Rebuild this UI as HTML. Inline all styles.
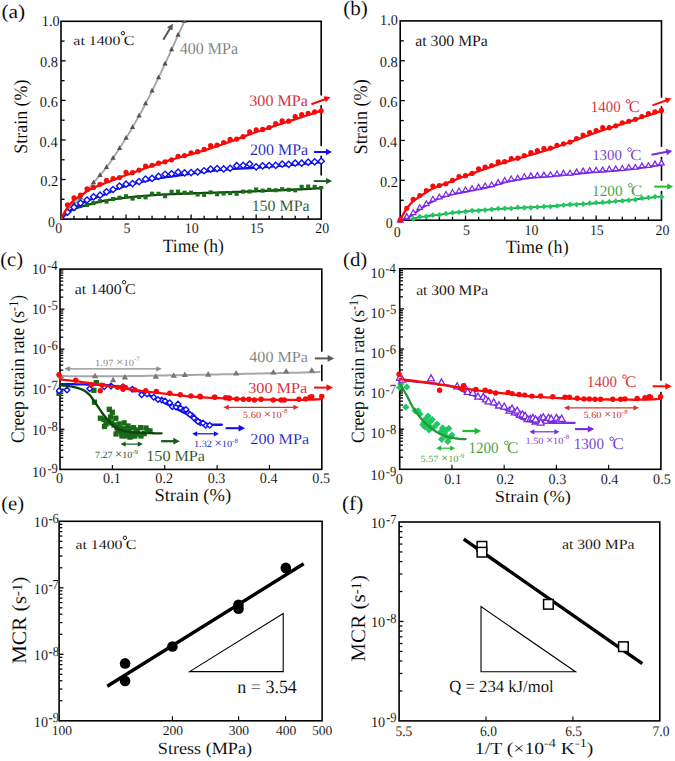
<!DOCTYPE html>
<html><head><meta charset="utf-8"><style>
html,body{margin:0;padding:0;background:#fff;}
svg{display:block;font-family:"Liberation Serif", serif;text-rendering:geometricPrecision;} text{stroke:#fff;stroke-width:0.1px;}
</style></head><body>
<svg width="675" height="761" viewBox="0 0 675 761">
<rect width="675" height="761" fill="#fff"/>
<rect x="61.00" y="21.30" width="260.20" height="197.80" fill="none" stroke="#000" stroke-width="1.6"/>
<line x1="61.00" y1="199.32" x2="64.60" y2="199.32" stroke="#000" stroke-width="1.3"/>
<line x1="61.00" y1="179.54" x2="65.60" y2="179.54" stroke="#000" stroke-width="1.3"/>
<line x1="61.00" y1="159.76" x2="64.60" y2="159.76" stroke="#000" stroke-width="1.3"/>
<line x1="61.00" y1="139.98" x2="65.60" y2="139.98" stroke="#000" stroke-width="1.3"/>
<line x1="61.00" y1="120.20" x2="64.60" y2="120.20" stroke="#000" stroke-width="1.3"/>
<line x1="61.00" y1="100.42" x2="65.60" y2="100.42" stroke="#000" stroke-width="1.3"/>
<line x1="61.00" y1="80.64" x2="64.60" y2="80.64" stroke="#000" stroke-width="1.3"/>
<line x1="61.00" y1="60.86" x2="65.60" y2="60.86" stroke="#000" stroke-width="1.3"/>
<line x1="61.00" y1="41.08" x2="64.60" y2="41.08" stroke="#000" stroke-width="1.3"/>
<line x1="74.01" y1="219.10" x2="74.01" y2="215.70" stroke="#000" stroke-width="1.3"/>
<line x1="87.02" y1="219.10" x2="87.02" y2="215.70" stroke="#000" stroke-width="1.3"/>
<line x1="100.03" y1="219.10" x2="100.03" y2="215.70" stroke="#000" stroke-width="1.3"/>
<line x1="113.04" y1="219.10" x2="113.04" y2="215.70" stroke="#000" stroke-width="1.3"/>
<line x1="126.05" y1="219.10" x2="126.05" y2="214.50" stroke="#000" stroke-width="1.3"/>
<line x1="139.06" y1="219.10" x2="139.06" y2="215.70" stroke="#000" stroke-width="1.3"/>
<line x1="152.07" y1="219.10" x2="152.07" y2="215.70" stroke="#000" stroke-width="1.3"/>
<line x1="165.08" y1="219.10" x2="165.08" y2="215.70" stroke="#000" stroke-width="1.3"/>
<line x1="178.09" y1="219.10" x2="178.09" y2="215.70" stroke="#000" stroke-width="1.3"/>
<line x1="191.10" y1="219.10" x2="191.10" y2="214.50" stroke="#000" stroke-width="1.3"/>
<line x1="204.11" y1="219.10" x2="204.11" y2="215.70" stroke="#000" stroke-width="1.3"/>
<line x1="217.12" y1="219.10" x2="217.12" y2="215.70" stroke="#000" stroke-width="1.3"/>
<line x1="230.13" y1="219.10" x2="230.13" y2="215.70" stroke="#000" stroke-width="1.3"/>
<line x1="243.14" y1="219.10" x2="243.14" y2="215.70" stroke="#000" stroke-width="1.3"/>
<line x1="256.15" y1="219.10" x2="256.15" y2="214.50" stroke="#000" stroke-width="1.3"/>
<line x1="269.16" y1="219.10" x2="269.16" y2="215.70" stroke="#000" stroke-width="1.3"/>
<line x1="282.17" y1="219.10" x2="282.17" y2="215.70" stroke="#000" stroke-width="1.3"/>
<line x1="295.18" y1="219.10" x2="295.18" y2="215.70" stroke="#000" stroke-width="1.3"/>
<line x1="308.19" y1="219.10" x2="308.19" y2="215.70" stroke="#000" stroke-width="1.3"/>
<text transform="translate(40.19,186.14) scale(0.960,1)" font-size="15.00" fill="#000">0.2</text>
<text transform="translate(39.62,146.58) scale(0.960,1)" font-size="15.00" fill="#000">0.4</text>
<text transform="translate(39.83,107.02) scale(0.960,1)" font-size="15.00" fill="#000">0.6</text>
<text transform="translate(39.98,67.46) scale(0.960,1)" font-size="15.00" fill="#000">0.8</text>
<text transform="translate(41.86,25.60) scale(0.950,1)" font-size="15.00" fill="#000">1.0</text>
<text transform="translate(47.93,227.20) scale(0.950,1)" font-size="14.60" fill="#000">0</text>
<text transform="translate(123.44,232.70) scale(0.950,1)" font-size="14.60" fill="#000">5</text>
<text transform="translate(184.85,232.70) scale(0.950,1)" font-size="14.60" fill="#000">10</text>
<text transform="translate(249.90,232.70) scale(0.950,1)" font-size="14.60" fill="#000">15</text>
<text transform="translate(315.23,232.70) scale(0.950,1)" font-size="14.60" fill="#000">20</text>
<text transform="translate(55.33,232.70) scale(0.950,1)" font-size="14.60" fill="#000">0</text>
<rect x="400.20" y="20.90" width="261.30" height="199.30" fill="none" stroke="#000" stroke-width="1.6"/>
<line x1="400.20" y1="200.27" x2="403.80" y2="200.27" stroke="#000" stroke-width="1.3"/>
<line x1="400.20" y1="180.34" x2="404.80" y2="180.34" stroke="#000" stroke-width="1.3"/>
<line x1="400.20" y1="160.41" x2="403.80" y2="160.41" stroke="#000" stroke-width="1.3"/>
<line x1="400.20" y1="140.48" x2="404.80" y2="140.48" stroke="#000" stroke-width="1.3"/>
<line x1="400.20" y1="120.55" x2="403.80" y2="120.55" stroke="#000" stroke-width="1.3"/>
<line x1="400.20" y1="100.62" x2="404.80" y2="100.62" stroke="#000" stroke-width="1.3"/>
<line x1="400.20" y1="80.69" x2="403.80" y2="80.69" stroke="#000" stroke-width="1.3"/>
<line x1="400.20" y1="60.76" x2="404.80" y2="60.76" stroke="#000" stroke-width="1.3"/>
<line x1="400.20" y1="40.83" x2="403.80" y2="40.83" stroke="#000" stroke-width="1.3"/>
<line x1="413.26" y1="220.20" x2="413.26" y2="216.80" stroke="#000" stroke-width="1.3"/>
<line x1="426.33" y1="220.20" x2="426.33" y2="216.80" stroke="#000" stroke-width="1.3"/>
<line x1="439.39" y1="220.20" x2="439.39" y2="216.80" stroke="#000" stroke-width="1.3"/>
<line x1="452.46" y1="220.20" x2="452.46" y2="216.80" stroke="#000" stroke-width="1.3"/>
<line x1="465.52" y1="220.20" x2="465.52" y2="215.60" stroke="#000" stroke-width="1.3"/>
<line x1="478.59" y1="220.20" x2="478.59" y2="216.80" stroke="#000" stroke-width="1.3"/>
<line x1="491.65" y1="220.20" x2="491.65" y2="216.80" stroke="#000" stroke-width="1.3"/>
<line x1="504.72" y1="220.20" x2="504.72" y2="216.80" stroke="#000" stroke-width="1.3"/>
<line x1="517.78" y1="220.20" x2="517.78" y2="216.80" stroke="#000" stroke-width="1.3"/>
<line x1="530.85" y1="220.20" x2="530.85" y2="215.60" stroke="#000" stroke-width="1.3"/>
<line x1="543.91" y1="220.20" x2="543.91" y2="216.80" stroke="#000" stroke-width="1.3"/>
<line x1="556.98" y1="220.20" x2="556.98" y2="216.80" stroke="#000" stroke-width="1.3"/>
<line x1="570.04" y1="220.20" x2="570.04" y2="216.80" stroke="#000" stroke-width="1.3"/>
<line x1="583.11" y1="220.20" x2="583.11" y2="216.80" stroke="#000" stroke-width="1.3"/>
<line x1="596.17" y1="220.20" x2="596.17" y2="215.60" stroke="#000" stroke-width="1.3"/>
<line x1="609.24" y1="220.20" x2="609.24" y2="216.80" stroke="#000" stroke-width="1.3"/>
<line x1="622.31" y1="220.20" x2="622.31" y2="216.80" stroke="#000" stroke-width="1.3"/>
<line x1="635.37" y1="220.20" x2="635.37" y2="216.80" stroke="#000" stroke-width="1.3"/>
<line x1="648.43" y1="220.20" x2="648.43" y2="216.80" stroke="#000" stroke-width="1.3"/>
<text transform="translate(379.89,186.54) scale(0.960,1)" font-size="15.00" fill="#000">0.2</text>
<text transform="translate(379.32,146.68) scale(0.960,1)" font-size="15.00" fill="#000">0.4</text>
<text transform="translate(379.53,106.82) scale(0.960,1)" font-size="15.00" fill="#000">0.6</text>
<text transform="translate(379.68,66.96) scale(0.960,1)" font-size="15.00" fill="#000">0.8</text>
<text transform="translate(380.06,24.80) scale(0.950,1)" font-size="15.00" fill="#000">1.0</text>
<text transform="translate(385.63,228.00) scale(0.950,1)" font-size="14.60" fill="#000">0</text>
<text transform="translate(462.92,235.40) scale(0.950,1)" font-size="14.60" fill="#000">5</text>
<text transform="translate(524.60,235.40) scale(0.950,1)" font-size="14.60" fill="#000">10</text>
<text transform="translate(589.93,235.40) scale(0.950,1)" font-size="14.60" fill="#000">15</text>
<text transform="translate(655.53,235.40) scale(0.950,1)" font-size="14.60" fill="#000">20</text>
<text transform="translate(393.73,237.40) scale(0.950,1)" font-size="14.60" fill="#000">0</text>
<rect x="60.00" y="269.10" width="261.80" height="200.30" fill="none" stroke="#000" stroke-width="1.6"/>
<line x1="60.00" y1="457.34" x2="63.30" y2="457.34" stroke="#000" stroke-width="1.25"/>
<line x1="60.00" y1="450.29" x2="63.30" y2="450.29" stroke="#000" stroke-width="1.25"/>
<line x1="60.00" y1="445.28" x2="63.30" y2="445.28" stroke="#000" stroke-width="1.25"/>
<line x1="60.00" y1="441.40" x2="63.30" y2="441.40" stroke="#000" stroke-width="1.25"/>
<line x1="60.00" y1="438.23" x2="63.30" y2="438.23" stroke="#000" stroke-width="1.25"/>
<line x1="60.00" y1="435.55" x2="63.30" y2="435.55" stroke="#000" stroke-width="1.25"/>
<line x1="60.00" y1="433.22" x2="63.30" y2="433.22" stroke="#000" stroke-width="1.25"/>
<line x1="60.00" y1="431.17" x2="63.30" y2="431.17" stroke="#000" stroke-width="1.25"/>
<line x1="60.00" y1="429.34" x2="64.40" y2="429.34" stroke="#000" stroke-width="1.3"/>
<line x1="60.00" y1="417.28" x2="63.30" y2="417.28" stroke="#000" stroke-width="1.25"/>
<line x1="60.00" y1="410.23" x2="63.30" y2="410.23" stroke="#000" stroke-width="1.25"/>
<line x1="60.00" y1="405.22" x2="63.30" y2="405.22" stroke="#000" stroke-width="1.25"/>
<line x1="60.00" y1="401.34" x2="63.30" y2="401.34" stroke="#000" stroke-width="1.25"/>
<line x1="60.00" y1="398.17" x2="63.30" y2="398.17" stroke="#000" stroke-width="1.25"/>
<line x1="60.00" y1="395.49" x2="63.30" y2="395.49" stroke="#000" stroke-width="1.25"/>
<line x1="60.00" y1="393.16" x2="63.30" y2="393.16" stroke="#000" stroke-width="1.25"/>
<line x1="60.00" y1="391.11" x2="63.30" y2="391.11" stroke="#000" stroke-width="1.25"/>
<line x1="60.00" y1="389.28" x2="64.40" y2="389.28" stroke="#000" stroke-width="1.3"/>
<line x1="60.00" y1="377.22" x2="63.30" y2="377.22" stroke="#000" stroke-width="1.25"/>
<line x1="60.00" y1="370.17" x2="63.30" y2="370.17" stroke="#000" stroke-width="1.25"/>
<line x1="60.00" y1="365.16" x2="63.30" y2="365.16" stroke="#000" stroke-width="1.25"/>
<line x1="60.00" y1="361.28" x2="63.30" y2="361.28" stroke="#000" stroke-width="1.25"/>
<line x1="60.00" y1="358.11" x2="63.30" y2="358.11" stroke="#000" stroke-width="1.25"/>
<line x1="60.00" y1="355.43" x2="63.30" y2="355.43" stroke="#000" stroke-width="1.25"/>
<line x1="60.00" y1="353.10" x2="63.30" y2="353.10" stroke="#000" stroke-width="1.25"/>
<line x1="60.00" y1="351.05" x2="63.30" y2="351.05" stroke="#000" stroke-width="1.25"/>
<line x1="60.00" y1="349.22" x2="64.40" y2="349.22" stroke="#000" stroke-width="1.3"/>
<line x1="60.00" y1="337.16" x2="63.30" y2="337.16" stroke="#000" stroke-width="1.25"/>
<line x1="60.00" y1="330.11" x2="63.30" y2="330.11" stroke="#000" stroke-width="1.25"/>
<line x1="60.00" y1="325.10" x2="63.30" y2="325.10" stroke="#000" stroke-width="1.25"/>
<line x1="60.00" y1="321.22" x2="63.30" y2="321.22" stroke="#000" stroke-width="1.25"/>
<line x1="60.00" y1="318.05" x2="63.30" y2="318.05" stroke="#000" stroke-width="1.25"/>
<line x1="60.00" y1="315.37" x2="63.30" y2="315.37" stroke="#000" stroke-width="1.25"/>
<line x1="60.00" y1="313.04" x2="63.30" y2="313.04" stroke="#000" stroke-width="1.25"/>
<line x1="60.00" y1="310.99" x2="63.30" y2="310.99" stroke="#000" stroke-width="1.25"/>
<line x1="60.00" y1="309.16" x2="64.40" y2="309.16" stroke="#000" stroke-width="1.3"/>
<line x1="60.00" y1="297.10" x2="63.30" y2="297.10" stroke="#000" stroke-width="1.25"/>
<line x1="60.00" y1="290.05" x2="63.30" y2="290.05" stroke="#000" stroke-width="1.25"/>
<line x1="60.00" y1="285.04" x2="63.30" y2="285.04" stroke="#000" stroke-width="1.25"/>
<line x1="60.00" y1="281.16" x2="63.30" y2="281.16" stroke="#000" stroke-width="1.25"/>
<line x1="60.00" y1="277.99" x2="63.30" y2="277.99" stroke="#000" stroke-width="1.25"/>
<line x1="60.00" y1="275.31" x2="63.30" y2="275.31" stroke="#000" stroke-width="1.25"/>
<line x1="60.00" y1="272.98" x2="63.30" y2="272.98" stroke="#000" stroke-width="1.25"/>
<line x1="60.00" y1="270.93" x2="63.30" y2="270.93" stroke="#000" stroke-width="1.25"/>
<line x1="112.36" y1="469.40" x2="112.36" y2="464.90" stroke="#000" stroke-width="1.1"/>
<line x1="164.72" y1="469.40" x2="164.72" y2="464.90" stroke="#000" stroke-width="1.1"/>
<line x1="217.08" y1="469.40" x2="217.08" y2="464.90" stroke="#000" stroke-width="1.1"/>
<line x1="269.44" y1="469.40" x2="269.44" y2="464.90" stroke="#000" stroke-width="1.1"/>
<text transform="translate(32.00,477.00) scale(0.958,1)" font-size="14.80" fill="#000">10</text>
<text transform="translate(47.38,473.00) scale(0.900,1)" font-size="14.00" fill="#000">-9</text>
<text transform="translate(32.00,434.54) scale(0.958,1)" font-size="14.80" fill="#000">10</text>
<text transform="translate(47.38,430.54) scale(0.900,1)" font-size="14.00" fill="#000">-8</text>
<text transform="translate(32.00,394.48) scale(0.958,1)" font-size="14.80" fill="#000">10</text>
<text transform="translate(47.26,390.48) scale(0.900,1)" font-size="14.00" fill="#000">-7</text>
<text transform="translate(32.00,354.42) scale(0.958,1)" font-size="14.80" fill="#000">10</text>
<text transform="translate(47.26,350.42) scale(0.900,1)" font-size="14.00" fill="#000">-6</text>
<text transform="translate(32.00,314.36) scale(0.958,1)" font-size="14.80" fill="#000">10</text>
<text transform="translate(47.38,310.36) scale(0.900,1)" font-size="14.00" fill="#000">-5</text>
<text transform="translate(32.00,274.30) scale(0.958,1)" font-size="14.80" fill="#000">10</text>
<text transform="translate(47.07,270.30) scale(0.900,1)" font-size="14.00" fill="#000">-4</text>
<text transform="translate(55.96,483.20) scale(0.970,1)" font-size="14.60" fill="#000">0</text>
<text transform="translate(103.05,483.20) scale(0.970,1)" font-size="14.60" fill="#000">0.1</text>
<text transform="translate(155.37,483.20) scale(0.970,1)" font-size="14.60" fill="#000">0.2</text>
<text transform="translate(207.63,483.20) scale(0.970,1)" font-size="14.60" fill="#000">0.3</text>
<text transform="translate(259.81,483.20) scale(0.970,1)" font-size="14.60" fill="#000">0.4</text>
<text transform="translate(312.35,483.20) scale(0.970,1)" font-size="14.60" fill="#000">0.5</text>
<rect x="399.70" y="268.80" width="261.20" height="200.50" fill="none" stroke="#000" stroke-width="1.6"/>
<line x1="399.70" y1="457.23" x2="403.00" y2="457.23" stroke="#000" stroke-width="1.25"/>
<line x1="399.70" y1="450.17" x2="403.00" y2="450.17" stroke="#000" stroke-width="1.25"/>
<line x1="399.70" y1="445.16" x2="403.00" y2="445.16" stroke="#000" stroke-width="1.25"/>
<line x1="399.70" y1="441.27" x2="403.00" y2="441.27" stroke="#000" stroke-width="1.25"/>
<line x1="399.70" y1="438.10" x2="403.00" y2="438.10" stroke="#000" stroke-width="1.25"/>
<line x1="399.70" y1="435.41" x2="403.00" y2="435.41" stroke="#000" stroke-width="1.25"/>
<line x1="399.70" y1="433.09" x2="403.00" y2="433.09" stroke="#000" stroke-width="1.25"/>
<line x1="399.70" y1="431.03" x2="403.00" y2="431.03" stroke="#000" stroke-width="1.25"/>
<line x1="399.70" y1="429.20" x2="404.10" y2="429.20" stroke="#000" stroke-width="1.3"/>
<line x1="399.70" y1="417.13" x2="403.00" y2="417.13" stroke="#000" stroke-width="1.25"/>
<line x1="399.70" y1="410.07" x2="403.00" y2="410.07" stroke="#000" stroke-width="1.25"/>
<line x1="399.70" y1="405.06" x2="403.00" y2="405.06" stroke="#000" stroke-width="1.25"/>
<line x1="399.70" y1="401.17" x2="403.00" y2="401.17" stroke="#000" stroke-width="1.25"/>
<line x1="399.70" y1="398.00" x2="403.00" y2="398.00" stroke="#000" stroke-width="1.25"/>
<line x1="399.70" y1="395.31" x2="403.00" y2="395.31" stroke="#000" stroke-width="1.25"/>
<line x1="399.70" y1="392.99" x2="403.00" y2="392.99" stroke="#000" stroke-width="1.25"/>
<line x1="399.70" y1="390.93" x2="403.00" y2="390.93" stroke="#000" stroke-width="1.25"/>
<line x1="399.70" y1="389.10" x2="404.10" y2="389.10" stroke="#000" stroke-width="1.3"/>
<line x1="399.70" y1="377.03" x2="403.00" y2="377.03" stroke="#000" stroke-width="1.25"/>
<line x1="399.70" y1="369.97" x2="403.00" y2="369.97" stroke="#000" stroke-width="1.25"/>
<line x1="399.70" y1="364.96" x2="403.00" y2="364.96" stroke="#000" stroke-width="1.25"/>
<line x1="399.70" y1="361.07" x2="403.00" y2="361.07" stroke="#000" stroke-width="1.25"/>
<line x1="399.70" y1="357.90" x2="403.00" y2="357.90" stroke="#000" stroke-width="1.25"/>
<line x1="399.70" y1="355.21" x2="403.00" y2="355.21" stroke="#000" stroke-width="1.25"/>
<line x1="399.70" y1="352.89" x2="403.00" y2="352.89" stroke="#000" stroke-width="1.25"/>
<line x1="399.70" y1="350.83" x2="403.00" y2="350.83" stroke="#000" stroke-width="1.25"/>
<line x1="399.70" y1="349.00" x2="404.10" y2="349.00" stroke="#000" stroke-width="1.3"/>
<line x1="399.70" y1="336.93" x2="403.00" y2="336.93" stroke="#000" stroke-width="1.25"/>
<line x1="399.70" y1="329.87" x2="403.00" y2="329.87" stroke="#000" stroke-width="1.25"/>
<line x1="399.70" y1="324.86" x2="403.00" y2="324.86" stroke="#000" stroke-width="1.25"/>
<line x1="399.70" y1="320.97" x2="403.00" y2="320.97" stroke="#000" stroke-width="1.25"/>
<line x1="399.70" y1="317.80" x2="403.00" y2="317.80" stroke="#000" stroke-width="1.25"/>
<line x1="399.70" y1="315.11" x2="403.00" y2="315.11" stroke="#000" stroke-width="1.25"/>
<line x1="399.70" y1="312.79" x2="403.00" y2="312.79" stroke="#000" stroke-width="1.25"/>
<line x1="399.70" y1="310.73" x2="403.00" y2="310.73" stroke="#000" stroke-width="1.25"/>
<line x1="399.70" y1="308.90" x2="404.10" y2="308.90" stroke="#000" stroke-width="1.3"/>
<line x1="399.70" y1="296.83" x2="403.00" y2="296.83" stroke="#000" stroke-width="1.25"/>
<line x1="399.70" y1="289.77" x2="403.00" y2="289.77" stroke="#000" stroke-width="1.25"/>
<line x1="399.70" y1="284.76" x2="403.00" y2="284.76" stroke="#000" stroke-width="1.25"/>
<line x1="399.70" y1="280.87" x2="403.00" y2="280.87" stroke="#000" stroke-width="1.25"/>
<line x1="399.70" y1="277.70" x2="403.00" y2="277.70" stroke="#000" stroke-width="1.25"/>
<line x1="399.70" y1="275.01" x2="403.00" y2="275.01" stroke="#000" stroke-width="1.25"/>
<line x1="399.70" y1="272.69" x2="403.00" y2="272.69" stroke="#000" stroke-width="1.25"/>
<line x1="399.70" y1="270.63" x2="403.00" y2="270.63" stroke="#000" stroke-width="1.25"/>
<line x1="451.94" y1="469.30" x2="451.94" y2="464.80" stroke="#000" stroke-width="1.1"/>
<line x1="504.18" y1="469.30" x2="504.18" y2="464.80" stroke="#000" stroke-width="1.1"/>
<line x1="556.42" y1="469.30" x2="556.42" y2="464.80" stroke="#000" stroke-width="1.1"/>
<line x1="608.66" y1="469.30" x2="608.66" y2="464.80" stroke="#000" stroke-width="1.1"/>
<text transform="translate(370.60,480.10) scale(0.958,1)" font-size="14.80" fill="#000">10</text>
<text transform="translate(385.68,475.80) scale(0.900,1)" font-size="14.00" fill="#000">-9</text>
<text transform="translate(370.60,438.10) scale(0.958,1)" font-size="14.80" fill="#000">10</text>
<text transform="translate(385.68,433.80) scale(0.900,1)" font-size="14.00" fill="#000">-8</text>
<text transform="translate(370.60,398.00) scale(0.958,1)" font-size="14.80" fill="#000">10</text>
<text transform="translate(385.56,393.70) scale(0.900,1)" font-size="14.00" fill="#000">-7</text>
<text transform="translate(370.60,357.90) scale(0.958,1)" font-size="14.80" fill="#000">10</text>
<text transform="translate(385.56,353.60) scale(0.900,1)" font-size="14.00" fill="#000">-6</text>
<text transform="translate(370.60,317.80) scale(0.958,1)" font-size="14.80" fill="#000">10</text>
<text transform="translate(385.68,313.50) scale(0.900,1)" font-size="14.00" fill="#000">-5</text>
<text transform="translate(370.60,277.70) scale(0.958,1)" font-size="14.80" fill="#000">10</text>
<text transform="translate(385.37,273.40) scale(0.900,1)" font-size="14.00" fill="#000">-4</text>
<text transform="translate(395.66,484.30) scale(0.970,1)" font-size="14.60" fill="#000">0</text>
<text transform="translate(444.23,484.30) scale(0.970,1)" font-size="14.60" fill="#000">0.1</text>
<text transform="translate(496.43,484.30) scale(0.970,1)" font-size="14.60" fill="#000">0.2</text>
<text transform="translate(548.57,484.30) scale(0.970,1)" font-size="14.60" fill="#000">0.3</text>
<text transform="translate(600.63,484.30) scale(0.970,1)" font-size="14.60" fill="#000">0.4</text>
<text transform="translate(653.05,484.30) scale(0.970,1)" font-size="14.60" fill="#000">0.5</text>
<rect x="59.10" y="521.30" width="263.00" height="199.50" fill="none" stroke="#000" stroke-width="1.6"/>
<line x1="59.10" y1="700.78" x2="62.40" y2="700.78" stroke="#000" stroke-width="1.25"/>
<line x1="59.10" y1="689.07" x2="62.40" y2="689.07" stroke="#000" stroke-width="1.25"/>
<line x1="59.10" y1="680.76" x2="62.40" y2="680.76" stroke="#000" stroke-width="1.25"/>
<line x1="59.10" y1="674.32" x2="62.40" y2="674.32" stroke="#000" stroke-width="1.25"/>
<line x1="59.10" y1="669.05" x2="62.40" y2="669.05" stroke="#000" stroke-width="1.25"/>
<line x1="59.10" y1="664.60" x2="62.40" y2="664.60" stroke="#000" stroke-width="1.25"/>
<line x1="59.10" y1="660.74" x2="62.40" y2="660.74" stroke="#000" stroke-width="1.25"/>
<line x1="59.10" y1="657.34" x2="62.40" y2="657.34" stroke="#000" stroke-width="1.25"/>
<line x1="59.10" y1="654.30" x2="63.50" y2="654.30" stroke="#000" stroke-width="1.3"/>
<line x1="59.10" y1="634.28" x2="62.40" y2="634.28" stroke="#000" stroke-width="1.25"/>
<line x1="59.10" y1="622.57" x2="62.40" y2="622.57" stroke="#000" stroke-width="1.25"/>
<line x1="59.10" y1="614.26" x2="62.40" y2="614.26" stroke="#000" stroke-width="1.25"/>
<line x1="59.10" y1="607.82" x2="62.40" y2="607.82" stroke="#000" stroke-width="1.25"/>
<line x1="59.10" y1="602.55" x2="62.40" y2="602.55" stroke="#000" stroke-width="1.25"/>
<line x1="59.10" y1="598.10" x2="62.40" y2="598.10" stroke="#000" stroke-width="1.25"/>
<line x1="59.10" y1="594.24" x2="62.40" y2="594.24" stroke="#000" stroke-width="1.25"/>
<line x1="59.10" y1="590.84" x2="62.40" y2="590.84" stroke="#000" stroke-width="1.25"/>
<line x1="59.10" y1="587.80" x2="63.50" y2="587.80" stroke="#000" stroke-width="1.3"/>
<line x1="59.10" y1="567.78" x2="62.40" y2="567.78" stroke="#000" stroke-width="1.25"/>
<line x1="59.10" y1="556.07" x2="62.40" y2="556.07" stroke="#000" stroke-width="1.25"/>
<line x1="59.10" y1="547.76" x2="62.40" y2="547.76" stroke="#000" stroke-width="1.25"/>
<line x1="59.10" y1="541.32" x2="62.40" y2="541.32" stroke="#000" stroke-width="1.25"/>
<line x1="59.10" y1="536.05" x2="62.40" y2="536.05" stroke="#000" stroke-width="1.25"/>
<line x1="59.10" y1="531.60" x2="62.40" y2="531.60" stroke="#000" stroke-width="1.25"/>
<line x1="59.10" y1="527.74" x2="62.40" y2="527.74" stroke="#000" stroke-width="1.25"/>
<line x1="59.10" y1="524.34" x2="62.40" y2="524.34" stroke="#000" stroke-width="1.25"/>
<line x1="172.37" y1="720.80" x2="172.37" y2="716.30" stroke="#000" stroke-width="1.1"/>
<line x1="238.63" y1="720.80" x2="238.63" y2="716.30" stroke="#000" stroke-width="1.1"/>
<line x1="285.64" y1="720.80" x2="285.64" y2="716.30" stroke="#000" stroke-width="1.1"/>
<text transform="translate(33.80,726.80) scale(0.971,1)" font-size="14.60" fill="#000">10</text>
<text transform="translate(48.53,722.20) scale(0.900,1)" font-size="13.80" fill="#000">-9</text>
<text transform="translate(33.80,660.30) scale(0.971,1)" font-size="14.60" fill="#000">10</text>
<text transform="translate(48.53,655.70) scale(0.900,1)" font-size="13.80" fill="#000">-8</text>
<text transform="translate(33.80,593.80) scale(0.971,1)" font-size="14.60" fill="#000">10</text>
<text transform="translate(48.40,589.20) scale(0.900,1)" font-size="13.80" fill="#000">-7</text>
<text transform="translate(33.80,527.30) scale(0.971,1)" font-size="14.60" fill="#000">10</text>
<text transform="translate(48.40,522.70) scale(0.900,1)" font-size="13.80" fill="#000">-6</text>
<text transform="translate(51.69,735.40) scale(1.000,1)" font-size="13.60" fill="#000">100</text>
<text transform="translate(162.77,735.40) scale(1.000,1)" font-size="13.60" fill="#000">200</text>
<text transform="translate(228.77,735.40) scale(1.000,1)" font-size="13.60" fill="#000">300</text>
<text transform="translate(275.94,735.40) scale(1.000,1)" font-size="13.60" fill="#000">400</text>
<text transform="translate(311.96,735.40) scale(1.000,1)" font-size="13.60" fill="#000">500</text>
<rect x="399.10" y="522.00" width="260.70" height="198.90" fill="none" stroke="#000" stroke-width="1.6"/>
<line x1="399.10" y1="690.96" x2="402.40" y2="690.96" stroke="#000" stroke-width="1.25"/>
<line x1="399.10" y1="673.45" x2="402.40" y2="673.45" stroke="#000" stroke-width="1.25"/>
<line x1="399.10" y1="661.03" x2="402.40" y2="661.03" stroke="#000" stroke-width="1.25"/>
<line x1="399.10" y1="651.39" x2="402.40" y2="651.39" stroke="#000" stroke-width="1.25"/>
<line x1="399.10" y1="643.51" x2="402.40" y2="643.51" stroke="#000" stroke-width="1.25"/>
<line x1="399.10" y1="636.85" x2="402.40" y2="636.85" stroke="#000" stroke-width="1.25"/>
<line x1="399.10" y1="631.09" x2="402.40" y2="631.09" stroke="#000" stroke-width="1.25"/>
<line x1="399.10" y1="626.00" x2="402.40" y2="626.00" stroke="#000" stroke-width="1.25"/>
<line x1="399.10" y1="621.45" x2="403.50" y2="621.45" stroke="#000" stroke-width="1.3"/>
<line x1="399.10" y1="591.51" x2="402.40" y2="591.51" stroke="#000" stroke-width="1.25"/>
<line x1="399.10" y1="574.00" x2="402.40" y2="574.00" stroke="#000" stroke-width="1.25"/>
<line x1="399.10" y1="561.58" x2="402.40" y2="561.58" stroke="#000" stroke-width="1.25"/>
<line x1="399.10" y1="551.94" x2="402.40" y2="551.94" stroke="#000" stroke-width="1.25"/>
<line x1="399.10" y1="544.06" x2="402.40" y2="544.06" stroke="#000" stroke-width="1.25"/>
<line x1="399.10" y1="537.40" x2="402.40" y2="537.40" stroke="#000" stroke-width="1.25"/>
<line x1="399.10" y1="531.64" x2="402.40" y2="531.64" stroke="#000" stroke-width="1.25"/>
<line x1="399.10" y1="526.55" x2="402.40" y2="526.55" stroke="#000" stroke-width="1.25"/>
<line x1="486.00" y1="720.90" x2="486.00" y2="716.40" stroke="#000" stroke-width="1.1"/>
<line x1="572.90" y1="720.90" x2="572.90" y2="716.40" stroke="#000" stroke-width="1.1"/>
<text transform="translate(370.89,726.60) scale(0.965,1)" font-size="14.80" fill="#000">10</text>
<text transform="translate(386.23,722.40) scale(0.900,1)" font-size="13.80" fill="#000">-9</text>
<text transform="translate(370.89,627.15) scale(0.965,1)" font-size="14.80" fill="#000">10</text>
<text transform="translate(386.23,622.95) scale(0.900,1)" font-size="13.80" fill="#000">-8</text>
<text transform="translate(370.89,527.70) scale(0.965,1)" font-size="14.80" fill="#000">10</text>
<text transform="translate(386.10,523.50) scale(0.900,1)" font-size="13.80" fill="#000">-7</text>
<text transform="translate(395.44,735.60) scale(0.930,1)" font-size="14.50" fill="#000">5.5</text>
<text transform="translate(480.07,735.60) scale(0.930,1)" font-size="14.50" fill="#000">6.0</text>
<text transform="translate(565.17,735.60) scale(0.930,1)" font-size="14.50" fill="#000">6.5</text>
<text transform="translate(652.60,735.60) scale(0.930,1)" font-size="14.50" fill="#000">7.0</text>
<text transform="translate(1.43,17.69) scale(1.098,1)" font-size="19.56" fill="#000">(a)</text>
<text transform="translate(343.25,15.48) scale(1.027,1)" font-size="20.55" fill="#000">(b)</text>
<text transform="translate(0.27,265.85) scale(1.018,1)" font-size="20.22" fill="#000">(c)</text>
<text transform="translate(342.96,265.62) scale(1.047,1)" font-size="19.89" fill="#000">(d)</text>
<text transform="translate(1.17,509.70) scale(1.029,1)" font-size="20.00" fill="#000">(e)</text>
<text transform="translate(342.05,509.68) scale(1.055,1)" font-size="20.11" fill="#000">(f)</text>
<text transform="translate(162.65,252.30) scale(0.936,1)" font-size="18.78" fill="#000">Time (h)</text>
<text transform="translate(505.64,252.90) scale(0.970,1)" font-size="18.63" fill="#000">Time (h)</text>
<text transform="translate(154.39,501.30) scale(1.029,1)" font-size="18.03" fill="#000">Strain (%)</text>
<text transform="translate(494.80,502.00) scale(1.093,1)" font-size="16.82" fill="#000">Strain (%)</text>
<text transform="translate(157.82,754.40) scale(1.060,1)" font-size="17.12" fill="#000">Stress (MPa)</text>
<text transform="translate(474.82,754.40) scale(1.159,1)" font-size="16.99">1/T (×10<tspan font-size="12.23" dy="-7.14">-4</tspan><tspan dy="7.14"> K</tspan><tspan font-size="12.23" dy="-7.14">-1</tspan><tspan dy="7.14">)</tspan></text>
<text transform="translate(27.30,152.50) rotate(-90) scale(0.945,1) translate(-1.23,0)" font-size="18.94" fill="#000">Strain (%)</text>
<text transform="translate(367.40,153.20) rotate(-90) scale(0.929,1) translate(-1.27,0)" font-size="19.55" fill="#000">Strain (%)</text>
<text transform="translate(24.20,442.30) rotate(-90) scale(0.906,1) translate(-0.77,0)" font-size="19.24" fill="#000">Creep strain rate (s<tspan font-size="13.47" dy="-6.35">-1</tspan><tspan dy="6.35">)</tspan></text>
<text transform="translate(364.00,442.30) rotate(-90) scale(0.934,1) translate(-0.75,0)" font-size="18.79" fill="#000">Creep strain rate (s<tspan font-size="13.15" dy="-6.20">-1</tspan><tspan dy="6.20">)</tspan></text>
<text transform="translate(26.10,663.40) rotate(-90) scale(1.032,1) translate(-0.62,0)" font-size="20.61" fill="#000">MCR (s<tspan font-size="14.43" dy="-4.53">-1</tspan><tspan dy="4.53">)</tspan></text>
<text transform="translate(365.30,661.00) rotate(-90) scale(1.022,1) translate(-0.62,0)" font-size="20.61" fill="#000">MCR (s<tspan font-size="14.43" dy="-4.53">-1</tspan><tspan dy="4.53">)</tspan></text>
<clipPath id="ca"><rect x="61.0" y="21.3" width="264.2" height="197.79999999999998"/></clipPath>
<g clip-path="url(#ca)">
<polyline points="61.00,219.10 62.06,217.52 63.12,215.96 64.18,214.46 65.24,213.01 66.30,211.64 67.36,210.36 68.42,209.17 69.48,208.05 70.54,206.99 71.60,205.98 72.67,205.01 73.73,204.06 74.79,203.12 75.85,202.18 76.91,201.22 77.97,200.25 79.03,199.24 80.09,198.18 81.15,197.07 82.21,195.92 83.27,194.75 84.33,193.55 85.39,192.33 86.45,191.09 87.51,189.84 88.57,188.58 89.63,187.32 90.69,186.05 91.75,184.79 92.81,183.54 93.87,182.30 94.94,181.07 96.00,179.85 97.06,178.64 98.12,177.42 99.18,176.21 100.24,174.98 101.30,173.75 102.36,172.49 103.42,171.21 104.48,169.91 105.54,168.57 106.60,167.19 107.66,165.78 108.72,164.34 109.78,162.87 110.84,161.38 111.90,159.86 112.96,158.31 114.02,156.75 115.08,155.17 116.14,153.56 117.21,151.95 118.27,150.31 119.33,148.66 120.39,147.00 121.45,145.33 122.51,143.65 123.57,141.97 124.63,140.28 125.69,138.58 126.75,136.88 127.81,135.16 128.87,133.42 129.93,131.67 130.99,129.90 132.05,128.11 133.11,126.30 134.17,124.48 135.23,122.64 136.29,120.78 137.35,118.90 138.41,117.01 139.48,115.10 140.54,113.16 141.60,111.21 142.66,109.23 143.72,107.23 144.78,105.21 145.84,103.17 146.90,101.12 147.96,99.05 149.02,96.97 150.08,94.88 151.14,92.78 152.20,90.66 153.26,88.53 154.32,86.39 155.38,84.22 156.44,82.04 157.50,79.85 158.56,77.64 159.62,75.41 160.69,73.18 161.75,70.94 162.81,68.68 163.87,66.42 164.93,64.15 165.99,61.87 167.05,59.57 168.11,57.25 169.17,54.92 170.23,52.57 171.29,50.22 172.35,47.86 173.41,45.50 174.47,43.14 175.53,40.78 176.59,38.44 177.65,36.10 178.71,33.78 179.77,31.47 180.83,29.16 181.89,26.85 182.96,24.55 184.02,22.25 185.08,19.95 186.14,17.66 187.20,15.37" fill="none" stroke="#a6a6a6" stroke-width="1.9" stroke-linejoin="round" stroke-linecap="round"/>
<polygon points="61.00,216.00 63.66,220.76 58.34,220.76" fill="#555" stroke="none" stroke-width="0"/>
<polygon points="67.50,207.10 70.16,211.86 64.84,211.86" fill="#555" stroke="none" stroke-width="0"/>
<polygon points="74.01,200.70 76.67,205.46 71.35,205.46" fill="#555" stroke="none" stroke-width="0"/>
<polygon points="80.52,194.64 83.17,199.40 77.86,199.40" fill="#555" stroke="none" stroke-width="0"/>
<polygon points="87.02,187.32 89.68,192.08 84.36,192.08" fill="#555" stroke="none" stroke-width="0"/>
<polygon points="93.53,179.60 96.19,184.36 90.87,184.36" fill="#555" stroke="none" stroke-width="0"/>
<polygon points="100.03,172.12 102.69,176.88 97.37,176.88" fill="#555" stroke="none" stroke-width="0"/>
<polygon points="106.53,164.18 109.19,168.94 103.88,168.94" fill="#555" stroke="none" stroke-width="0"/>
<polygon points="113.04,155.10 115.70,159.86 110.38,159.86" fill="#555" stroke="none" stroke-width="0"/>
<polygon points="119.54,145.22 122.20,149.98 116.88,149.98" fill="#555" stroke="none" stroke-width="0"/>
<polygon points="126.05,134.90 128.71,139.66 123.39,139.66" fill="#555" stroke="none" stroke-width="0"/>
<polygon points="132.56,124.15 135.22,128.91 129.90,128.91" fill="#555" stroke="none" stroke-width="0"/>
<polygon points="139.06,112.75 141.72,117.51 136.40,117.51" fill="#555" stroke="none" stroke-width="0"/>
<polygon points="145.56,100.60 148.22,105.36 142.91,105.36" fill="#555" stroke="none" stroke-width="0"/>
<polygon points="152.07,87.83 154.73,92.59 149.41,92.59" fill="#555" stroke="none" stroke-width="0"/>
<polygon points="158.57,74.51 161.23,79.27 155.91,79.27" fill="#555" stroke="none" stroke-width="0"/>
<polygon points="165.08,60.73 167.74,65.49 162.42,65.49" fill="#555" stroke="none" stroke-width="0"/>
<polygon points="171.58,46.46 174.24,51.22 168.92,51.22" fill="#555" stroke="none" stroke-width="0"/>
<polygon points="178.09,32.05 180.75,36.81 175.43,36.81" fill="#555" stroke="none" stroke-width="0"/>
<polygon points="184.59,17.89 187.25,22.65 181.94,22.65" fill="#555" stroke="none" stroke-width="0"/>
<polyline points="61.00,219.10 63.19,216.35 65.37,213.92 67.56,212.14 69.75,210.90 71.93,209.86 74.12,208.98 76.31,208.20 78.49,207.48 80.68,206.78 82.87,206.13 85.05,205.54 87.24,204.98 89.43,204.42 91.61,203.84 93.80,203.25 95.98,202.67 98.17,202.12 100.36,201.62 102.54,201.17 104.73,200.73 106.92,200.32 109.10,199.94 111.29,199.58 113.48,199.26 115.66,198.96 117.85,198.68 120.04,198.41 122.22,198.16 124.41,197.92 126.60,197.68 128.78,197.43 130.97,197.19 133.16,196.95 135.34,196.72 137.53,196.49 139.72,196.28 141.90,196.07 144.09,195.88 146.28,195.70 148.46,195.53 150.65,195.37 152.84,195.21 155.02,195.06 157.21,194.92 159.39,194.78 161.58,194.64 163.77,194.52 165.95,194.40 168.14,194.28 170.33,194.18 172.51,194.08 174.70,193.98 176.89,193.89 179.07,193.81 181.26,193.73 183.45,193.65 185.63,193.58 187.82,193.50 190.01,193.43 192.19,193.35 194.38,193.27 196.57,193.19 198.75,193.12 200.94,193.05 203.13,192.97 205.31,192.90 207.50,192.83 209.69,192.76 211.87,192.69 214.06,192.62 216.25,192.55 218.43,192.48 220.62,192.41 222.81,192.35 224.99,192.28 227.18,192.21 229.36,192.14 231.55,192.07 233.74,192.00 235.92,191.93 238.11,191.85 240.30,191.78 242.48,191.71 244.67,191.63 246.86,191.55 249.04,191.48 251.23,191.40 253.42,191.31 255.60,191.23 257.79,191.15 259.98,191.06 262.16,190.97 264.35,190.89 266.54,190.80 268.72,190.71 270.91,190.61 273.10,190.52 275.28,190.43 277.47,190.33 279.66,190.24 281.84,190.14 284.03,190.04 286.22,189.95 288.40,189.85 290.59,189.75 292.77,189.64 294.96,189.54 297.15,189.44 299.33,189.33 301.52,189.23 303.71,189.12 305.89,189.02 308.08,188.91 310.27,188.80 312.45,188.69 314.64,188.58 316.83,188.47 319.01,188.36 321.20,188.24" fill="none" stroke="#0b470b" stroke-width="2.3" stroke-linejoin="round" stroke-linecap="round"/>
<rect x="58.95" y="217.05" width="4.1" height="4.1" fill="#1b6e1b" stroke="none" stroke-width="0"/>
<rect x="65.45" y="210.14" width="4.1" height="4.1" fill="#1b6e1b" stroke="none" stroke-width="0"/>
<rect x="71.96" y="206.51" width="4.1" height="4.1" fill="#1b6e1b" stroke="none" stroke-width="0"/>
<rect x="78.47" y="202.74" width="4.1" height="4.1" fill="#1b6e1b" stroke="none" stroke-width="0"/>
<rect x="84.97" y="202.93" width="4.1" height="4.1" fill="#1b6e1b" stroke="none" stroke-width="0"/>
<rect x="91.48" y="201.04" width="4.1" height="4.1" fill="#1b6e1b" stroke="none" stroke-width="0"/>
<rect x="97.98" y="199.07" width="4.1" height="4.1" fill="#1b6e1b" stroke="none" stroke-width="0"/>
<rect x="104.48" y="199.52" width="4.1" height="4.1" fill="#1b6e1b" stroke="none" stroke-width="0"/>
<rect x="110.99" y="197.02" width="4.1" height="4.1" fill="#1b6e1b" stroke="none" stroke-width="0"/>
<rect x="117.49" y="195.66" width="4.1" height="4.1" fill="#1b6e1b" stroke="none" stroke-width="0"/>
<rect x="124.00" y="194.21" width="4.1" height="4.1" fill="#1b6e1b" stroke="none" stroke-width="0"/>
<rect x="130.50" y="196.54" width="4.1" height="4.1" fill="#1b6e1b" stroke="none" stroke-width="0"/>
<rect x="137.01" y="194.95" width="4.1" height="4.1" fill="#1b6e1b" stroke="none" stroke-width="0"/>
<rect x="143.51" y="195.29" width="4.1" height="4.1" fill="#1b6e1b" stroke="none" stroke-width="0"/>
<rect x="150.02" y="191.67" width="4.1" height="4.1" fill="#1b6e1b" stroke="none" stroke-width="0"/>
<rect x="156.52" y="191.74" width="4.1" height="4.1" fill="#1b6e1b" stroke="none" stroke-width="0"/>
<rect x="163.03" y="194.19" width="4.1" height="4.1" fill="#1b6e1b" stroke="none" stroke-width="0"/>
<rect x="169.53" y="189.77" width="4.1" height="4.1" fill="#1b6e1b" stroke="none" stroke-width="0"/>
<rect x="176.04" y="189.58" width="4.1" height="4.1" fill="#1b6e1b" stroke="none" stroke-width="0"/>
<rect x="182.54" y="190.70" width="4.1" height="4.1" fill="#1b6e1b" stroke="none" stroke-width="0"/>
<rect x="189.05" y="190.64" width="4.1" height="4.1" fill="#1b6e1b" stroke="none" stroke-width="0"/>
<rect x="195.55" y="192.40" width="4.1" height="4.1" fill="#1b6e1b" stroke="none" stroke-width="0"/>
<rect x="202.06" y="192.80" width="4.1" height="4.1" fill="#1b6e1b" stroke="none" stroke-width="0"/>
<rect x="208.56" y="190.36" width="4.1" height="4.1" fill="#1b6e1b" stroke="none" stroke-width="0"/>
<rect x="215.07" y="192.19" width="4.1" height="4.1" fill="#1b6e1b" stroke="none" stroke-width="0"/>
<rect x="221.57" y="191.42" width="4.1" height="4.1" fill="#1b6e1b" stroke="none" stroke-width="0"/>
<rect x="228.08" y="190.99" width="4.1" height="4.1" fill="#1b6e1b" stroke="none" stroke-width="0"/>
<rect x="234.58" y="191.70" width="4.1" height="4.1" fill="#1b6e1b" stroke="none" stroke-width="0"/>
<rect x="241.09" y="189.59" width="4.1" height="4.1" fill="#1b6e1b" stroke="none" stroke-width="0"/>
<rect x="247.59" y="189.46" width="4.1" height="4.1" fill="#1b6e1b" stroke="none" stroke-width="0"/>
<rect x="254.10" y="187.47" width="4.1" height="4.1" fill="#1b6e1b" stroke="none" stroke-width="0"/>
<rect x="260.60" y="188.62" width="4.1" height="4.1" fill="#1b6e1b" stroke="none" stroke-width="0"/>
<rect x="267.11" y="187.83" width="4.1" height="4.1" fill="#1b6e1b" stroke="none" stroke-width="0"/>
<rect x="273.62" y="188.17" width="4.1" height="4.1" fill="#1b6e1b" stroke="none" stroke-width="0"/>
<rect x="280.12" y="187.17" width="4.1" height="4.1" fill="#1b6e1b" stroke="none" stroke-width="0"/>
<rect x="286.62" y="187.77" width="4.1" height="4.1" fill="#1b6e1b" stroke="none" stroke-width="0"/>
<rect x="293.13" y="188.25" width="4.1" height="4.1" fill="#1b6e1b" stroke="none" stroke-width="0"/>
<rect x="299.63" y="184.81" width="4.1" height="4.1" fill="#1b6e1b" stroke="none" stroke-width="0"/>
<rect x="306.14" y="184.50" width="4.1" height="4.1" fill="#1b6e1b" stroke="none" stroke-width="0"/>
<rect x="312.64" y="184.85" width="4.1" height="4.1" fill="#1b6e1b" stroke="none" stroke-width="0"/>
<rect x="319.15" y="185.09" width="4.1" height="4.1" fill="#1b6e1b" stroke="none" stroke-width="0"/>
<polyline points="61.00,219.10 63.19,216.99 65.37,215.00 67.56,213.12 69.75,211.35 71.93,209.68 74.12,208.15 76.31,206.70 78.49,205.30 80.68,203.97 82.87,202.73 85.05,201.60 87.24,200.61 89.43,199.77 91.61,199.04 93.80,198.36 95.98,197.70 98.17,197.01 100.36,196.23 102.54,195.36 104.73,194.42 106.92,193.43 109.10,192.42 111.29,191.41 113.48,190.42 115.66,189.48 117.85,188.60 120.04,187.81 122.22,187.10 124.41,186.42 126.60,185.77 128.78,185.15 130.97,184.55 133.16,183.98 135.34,183.42 137.53,182.88 139.72,182.35 141.90,181.83 144.09,181.32 146.28,180.82 148.46,180.33 150.65,179.87 152.84,179.42 155.02,178.99 157.21,178.59 159.39,178.22 161.58,177.87 163.77,177.54 165.95,177.23 168.14,176.94 170.33,176.65 172.51,176.36 174.70,176.06 176.89,175.76 179.07,175.44 181.26,175.10 183.45,174.76 185.63,174.41 187.82,174.07 190.01,173.72 192.19,173.39 194.38,173.06 196.57,172.76 198.75,172.47 200.94,172.18 203.13,171.90 205.31,171.62 207.50,171.34 209.69,171.08 211.87,170.82 214.06,170.57 216.25,170.34 218.43,170.12 220.62,169.91 222.81,169.72 224.99,169.54 227.18,169.38 229.36,169.23 231.55,169.09 233.74,168.96 235.92,168.83 238.11,168.71 240.30,168.59 242.48,168.47 244.67,168.36 246.86,168.24 249.04,168.12 251.23,167.99 253.42,167.85 255.60,167.71 257.79,167.56 259.98,167.40 262.16,167.24 264.35,167.08 266.54,166.91 268.72,166.74 270.91,166.57 273.10,166.40 275.28,166.22 277.47,166.04 279.66,165.86 281.84,165.68 284.03,165.49 286.22,165.31 288.40,165.12 290.59,164.94 292.77,164.75 294.96,164.56 297.15,164.37 299.33,164.17 301.52,163.98 303.71,163.78 305.89,163.58 308.08,163.38 310.27,163.18 312.45,162.97 314.64,162.76 316.83,162.56 319.01,162.35 321.20,162.13" fill="none" stroke="#1010ee" stroke-width="2.3" stroke-linejoin="round" stroke-linecap="round"/>
<polygon points="61.00,216.00 64.10,219.10 61.00,222.20 57.90,219.10" fill="#fff" stroke="#1010ee" stroke-width="1.4"/>
<polygon points="67.50,209.04 70.60,212.14 67.50,215.24 64.41,212.14" fill="#fff" stroke="#1010ee" stroke-width="1.4"/>
<polygon points="74.01,204.21 77.11,207.31 74.01,210.41 70.91,207.31" fill="#fff" stroke="#1010ee" stroke-width="1.4"/>
<polygon points="80.52,199.97 83.61,203.07 80.52,206.17 77.42,203.07" fill="#fff" stroke="#1010ee" stroke-width="1.4"/>
<polygon points="87.02,196.91 90.12,200.01 87.02,203.11 83.92,200.01" fill="#fff" stroke="#1010ee" stroke-width="1.4"/>
<polygon points="93.53,193.69 96.62,196.79 93.53,199.89 90.43,196.79" fill="#fff" stroke="#1010ee" stroke-width="1.4"/>
<polygon points="100.03,192.11 103.13,195.21 100.03,198.31 96.93,195.21" fill="#fff" stroke="#1010ee" stroke-width="1.4"/>
<polygon points="106.53,188.74 109.63,191.84 106.53,194.94 103.44,191.84" fill="#fff" stroke="#1010ee" stroke-width="1.4"/>
<polygon points="113.04,186.39 116.14,189.49 113.04,192.59 109.94,189.49" fill="#fff" stroke="#1010ee" stroke-width="1.4"/>
<polygon points="119.54,182.96 122.64,186.06 119.54,189.16 116.44,186.06" fill="#fff" stroke="#1010ee" stroke-width="1.4"/>
<polygon points="126.05,181.06 129.15,184.16 126.05,187.26 122.95,184.16" fill="#fff" stroke="#1010ee" stroke-width="1.4"/>
<polygon points="132.56,180.44 135.66,183.54 132.56,186.64 129.46,183.54" fill="#fff" stroke="#1010ee" stroke-width="1.4"/>
<polygon points="139.06,178.52 142.16,181.62 139.06,184.72 135.96,181.62" fill="#fff" stroke="#1010ee" stroke-width="1.4"/>
<polygon points="145.56,176.02 148.66,179.12 145.56,182.22 142.47,179.12" fill="#fff" stroke="#1010ee" stroke-width="1.4"/>
<polygon points="152.07,175.23 155.17,178.33 152.07,181.43 148.97,178.33" fill="#fff" stroke="#1010ee" stroke-width="1.4"/>
<polygon points="158.57,173.30 161.67,176.40 158.57,179.50 155.47,176.40" fill="#fff" stroke="#1010ee" stroke-width="1.4"/>
<polygon points="165.08,171.13 168.18,174.23 165.08,177.33 161.98,174.23" fill="#fff" stroke="#1010ee" stroke-width="1.4"/>
<polygon points="171.58,170.71 174.68,173.81 171.58,176.91 168.48,173.81" fill="#fff" stroke="#1010ee" stroke-width="1.4"/>
<polygon points="178.09,169.04 181.19,172.14 178.09,175.24 174.99,172.14" fill="#fff" stroke="#1010ee" stroke-width="1.4"/>
<polygon points="184.59,169.81 187.69,172.91 184.59,176.01 181.50,172.91" fill="#fff" stroke="#1010ee" stroke-width="1.4"/>
<polygon points="191.10,169.49 194.20,172.59 191.10,175.69 188.00,172.59" fill="#fff" stroke="#1010ee" stroke-width="1.4"/>
<polygon points="197.60,168.80 200.70,171.90 197.60,175.00 194.50,171.90" fill="#fff" stroke="#1010ee" stroke-width="1.4"/>
<polygon points="204.11,167.62 207.21,170.72 204.11,173.82 201.01,170.72" fill="#fff" stroke="#1010ee" stroke-width="1.4"/>
<polygon points="210.61,165.94 213.71,169.04 210.61,172.14 207.51,169.04" fill="#fff" stroke="#1010ee" stroke-width="1.4"/>
<polygon points="217.12,165.50 220.22,168.60 217.12,171.70 214.02,168.60" fill="#fff" stroke="#1010ee" stroke-width="1.4"/>
<polygon points="223.62,165.79 226.72,168.89 223.62,171.99 220.53,168.89" fill="#fff" stroke="#1010ee" stroke-width="1.4"/>
<polygon points="230.13,165.15 233.23,168.25 230.13,171.35 227.03,168.25" fill="#fff" stroke="#1010ee" stroke-width="1.4"/>
<polygon points="236.63,162.59 239.73,165.69 236.63,168.79 233.53,165.69" fill="#fff" stroke="#1010ee" stroke-width="1.4"/>
<polygon points="243.14,162.29 246.24,165.39 243.14,168.49 240.04,165.39" fill="#fff" stroke="#1010ee" stroke-width="1.4"/>
<polygon points="249.64,160.91 252.74,164.01 249.64,167.11 246.54,164.01" fill="#fff" stroke="#1010ee" stroke-width="1.4"/>
<polygon points="256.15,163.73 259.25,166.83 256.15,169.93 253.05,166.83" fill="#fff" stroke="#1010ee" stroke-width="1.4"/>
<polygon points="262.65,162.74 265.75,165.84 262.65,168.94 259.55,165.84" fill="#fff" stroke="#1010ee" stroke-width="1.4"/>
<polygon points="269.16,162.40 272.26,165.50 269.16,168.60 266.06,165.50" fill="#fff" stroke="#1010ee" stroke-width="1.4"/>
<polygon points="275.67,162.23 278.77,165.33 275.67,168.43 272.56,165.33" fill="#fff" stroke="#1010ee" stroke-width="1.4"/>
<polygon points="282.17,160.94 285.27,164.04 282.17,167.14 279.07,164.04" fill="#fff" stroke="#1010ee" stroke-width="1.4"/>
<polygon points="288.68,161.23 291.78,164.33 288.68,167.43 285.57,164.33" fill="#fff" stroke="#1010ee" stroke-width="1.4"/>
<polygon points="295.18,159.96 298.28,163.06 295.18,166.16 292.08,163.06" fill="#fff" stroke="#1010ee" stroke-width="1.4"/>
<polygon points="301.69,160.11 304.79,163.21 301.69,166.31 298.58,163.21" fill="#fff" stroke="#1010ee" stroke-width="1.4"/>
<polygon points="308.19,159.09 311.29,162.19 308.19,165.29 305.09,162.19" fill="#fff" stroke="#1010ee" stroke-width="1.4"/>
<polygon points="314.69,158.77 317.80,161.87 314.69,164.97 311.59,161.87" fill="#fff" stroke="#1010ee" stroke-width="1.4"/>
<polygon points="321.20,158.07 324.30,161.17 321.20,164.27 318.10,161.17" fill="#fff" stroke="#1010ee" stroke-width="1.4"/>
<polyline points="61.00,219.10 63.19,214.77 65.37,210.89 67.56,207.55 69.75,204.65 71.93,202.11 74.12,200.02 76.31,198.40 78.49,197.03 80.68,195.65 82.87,194.13 85.05,192.58 87.24,191.08 89.43,189.75 91.61,188.62 93.80,187.63 95.98,186.71 98.17,185.83 100.36,184.95 102.54,184.08 104.73,183.25 106.92,182.44 109.10,181.63 111.29,180.81 113.48,179.96 115.66,179.08 117.85,178.19 120.04,177.33 122.22,176.50 124.41,175.71 126.60,174.92 128.78,174.15 130.97,173.38 133.16,172.60 135.34,171.82 137.53,171.04 139.72,170.25 141.90,169.47 144.09,168.69 146.28,167.91 148.46,167.14 150.65,166.38 152.84,165.63 155.02,164.89 157.21,164.16 159.39,163.45 161.58,162.75 163.77,162.06 165.95,161.39 168.14,160.72 170.33,160.06 172.51,159.41 174.70,158.77 176.89,158.13 179.07,157.50 181.26,156.89 183.45,156.30 185.63,155.72 187.82,155.14 190.01,154.56 192.19,153.97 194.38,153.37 196.57,152.75 198.75,152.10 200.94,151.43 203.13,150.76 205.31,150.07 207.50,149.36 209.69,148.65 211.87,147.93 214.06,147.20 216.25,146.46 218.43,145.72 220.62,144.97 222.81,144.22 224.99,143.46 227.18,142.69 229.36,141.91 231.55,141.11 233.74,140.30 235.92,139.49 238.11,138.67 240.30,137.85 242.48,137.04 244.67,136.22 246.86,135.41 249.04,134.60 251.23,133.81 253.42,133.03 255.60,132.26 257.79,131.50 259.98,130.76 262.16,130.02 264.35,129.30 266.54,128.57 268.72,127.86 270.91,127.14 273.10,126.44 275.28,125.73 277.47,125.02 279.66,124.32 281.84,123.61 284.03,122.90 286.22,122.19 288.40,121.48 290.59,120.76 292.77,120.04 294.96,119.32 297.15,118.60 299.33,117.89 301.52,117.17 303.71,116.45 305.89,115.73 308.08,115.01 310.27,114.30 312.45,113.58 314.64,112.86 316.83,112.14 319.01,111.42 321.20,110.71" fill="none" stroke="#f80a0a" stroke-width="2.3" stroke-linejoin="round" stroke-linecap="round"/>
<circle cx="67.50" cy="204.95" r="2.6" fill="#f80a0a" stroke="none" stroke-width="0"/>
<circle cx="74.01" cy="197.96" r="2.6" fill="#f80a0a" stroke="none" stroke-width="0"/>
<circle cx="80.52" cy="195.19" r="2.6" fill="#f80a0a" stroke="none" stroke-width="0"/>
<circle cx="87.02" cy="188.82" r="2.6" fill="#f80a0a" stroke="none" stroke-width="0"/>
<circle cx="93.53" cy="187.47" r="2.6" fill="#f80a0a" stroke="none" stroke-width="0"/>
<circle cx="100.03" cy="184.23" r="2.6" fill="#f80a0a" stroke="none" stroke-width="0"/>
<circle cx="106.53" cy="180.27" r="2.6" fill="#f80a0a" stroke="none" stroke-width="0"/>
<circle cx="113.04" cy="178.50" r="2.6" fill="#f80a0a" stroke="none" stroke-width="0"/>
<circle cx="119.54" cy="177.59" r="2.6" fill="#f80a0a" stroke="none" stroke-width="0"/>
<circle cx="126.05" cy="172.38" r="2.6" fill="#f80a0a" stroke="none" stroke-width="0"/>
<circle cx="132.56" cy="172.54" r="2.6" fill="#f80a0a" stroke="none" stroke-width="0"/>
<circle cx="139.06" cy="170.07" r="2.6" fill="#f80a0a" stroke="none" stroke-width="0"/>
<circle cx="145.56" cy="166.11" r="2.6" fill="#f80a0a" stroke="none" stroke-width="0"/>
<circle cx="152.07" cy="165.24" r="2.6" fill="#f80a0a" stroke="none" stroke-width="0"/>
<circle cx="158.57" cy="163.17" r="2.6" fill="#f80a0a" stroke="none" stroke-width="0"/>
<circle cx="165.08" cy="161.82" r="2.6" fill="#f80a0a" stroke="none" stroke-width="0"/>
<circle cx="171.58" cy="159.80" r="2.6" fill="#f80a0a" stroke="none" stroke-width="0"/>
<circle cx="178.09" cy="156.33" r="2.6" fill="#f80a0a" stroke="none" stroke-width="0"/>
<circle cx="184.59" cy="155.62" r="2.6" fill="#f80a0a" stroke="none" stroke-width="0"/>
<circle cx="191.10" cy="152.76" r="2.6" fill="#f80a0a" stroke="none" stroke-width="0"/>
<circle cx="197.60" cy="151.66" r="2.6" fill="#f80a0a" stroke="none" stroke-width="0"/>
<circle cx="204.11" cy="149.41" r="2.6" fill="#f80a0a" stroke="none" stroke-width="0"/>
<circle cx="210.61" cy="145.70" r="2.6" fill="#f80a0a" stroke="none" stroke-width="0"/>
<circle cx="217.12" cy="145.03" r="2.6" fill="#f80a0a" stroke="none" stroke-width="0"/>
<circle cx="223.62" cy="142.51" r="2.6" fill="#f80a0a" stroke="none" stroke-width="0"/>
<circle cx="230.13" cy="139.28" r="2.6" fill="#f80a0a" stroke="none" stroke-width="0"/>
<circle cx="236.63" cy="139.04" r="2.6" fill="#f80a0a" stroke="none" stroke-width="0"/>
<circle cx="243.14" cy="136.70" r="2.6" fill="#f80a0a" stroke="none" stroke-width="0"/>
<circle cx="249.64" cy="131.90" r="2.6" fill="#f80a0a" stroke="none" stroke-width="0"/>
<circle cx="256.15" cy="129.88" r="2.6" fill="#f80a0a" stroke="none" stroke-width="0"/>
<circle cx="262.65" cy="129.47" r="2.6" fill="#f80a0a" stroke="none" stroke-width="0"/>
<circle cx="269.16" cy="127.51" r="2.6" fill="#f80a0a" stroke="none" stroke-width="0"/>
<circle cx="275.67" cy="123.66" r="2.6" fill="#f80a0a" stroke="none" stroke-width="0"/>
<circle cx="282.17" cy="120.92" r="2.6" fill="#f80a0a" stroke="none" stroke-width="0"/>
<circle cx="288.68" cy="121.16" r="2.6" fill="#f80a0a" stroke="none" stroke-width="0"/>
<circle cx="295.18" cy="116.64" r="2.6" fill="#f80a0a" stroke="none" stroke-width="0"/>
<circle cx="301.69" cy="114.72" r="2.6" fill="#f80a0a" stroke="none" stroke-width="0"/>
<circle cx="308.19" cy="113.46" r="2.6" fill="#f80a0a" stroke="none" stroke-width="0"/>
<circle cx="314.69" cy="111.90" r="2.6" fill="#f80a0a" stroke="none" stroke-width="0"/>
<circle cx="321.20" cy="110.77" r="2.6" fill="#f80a0a" stroke="none" stroke-width="0"/>
<polygon points="61.00,216.00 63.66,220.76 58.34,220.76" fill="#666" stroke="none" stroke-width="0"/>
</g>
<text transform="translate(73.35,44.50) scale(1.189,1)" font-size="13.33" fill="#000">at 1400</text>
<text transform="translate(123.76,44.50) scale(1.158,1)" font-size="13.79" fill="#000">C</text>
<circle cx="122.9" cy="33.2" r="1.7" fill="none" stroke="#000" stroke-width="0.9"/>
<text transform="translate(179.68,54.30) scale(0.962,1)" font-size="16.67" fill="#7a7a7a">400 MPa</text>
<text transform="translate(249.27,106.20) scale(1.004,1)" font-size="16.06" fill="#d42030">300 MPa</text>
<text transform="translate(249.98,154.50) scale(0.997,1)" font-size="16.06" fill="#2020c0">200 MPa</text>
<text transform="translate(251.65,211.00) scale(1.000,1)" font-size="15.91" fill="#1f4f1f">150 MPa</text>
<rect x="319.20" y="95.50" width="4.0" height="9.60" fill="#fff"/>
<rect x="319.20" y="146.10" width="4.0" height="9.60" fill="#fff"/>
<rect x="319.20" y="175.50" width="4.0" height="10.50" fill="#fff"/>
<line x1="163.30" y1="39.70" x2="170.15" y2="28.17" stroke="#555" stroke-width="2.0"/>
<polygon points="172.80,23.70 172.49,30.49 166.99,27.23" fill="#555"/>
<line x1="311.40" y1="104.30" x2="325.54" y2="98.94" stroke="#f80a0a" stroke-width="2.0"/>
<polygon points="330.40,97.10 325.92,102.22 323.66,96.23" fill="#f80a0a"/>
<line x1="314.10" y1="152.00" x2="326.70" y2="152.00" stroke="#1010ee" stroke-width="2.0"/>
<polygon points="331.90,152.00 325.90,155.20 325.90,148.80" fill="#1010ee"/>
<line x1="313.80" y1="181.10" x2="326.90" y2="181.10" stroke="#1a5a1a" stroke-width="2.0"/>
<polygon points="332.10,181.10 326.10,184.30 326.10,177.90" fill="#1a5a1a"/>
<clipPath id="cb"><rect x="396.2" y="20.9" width="269.3" height="203.29999999999998"/></clipPath>
<g clip-path="url(#cb)">
<polyline points="413.26,218.41 415.35,218.00 417.44,217.62 419.52,217.26 421.61,216.91 423.70,216.59 425.78,216.29 427.87,216.01 429.95,215.75 432.04,215.51 434.13,215.29 436.21,215.11 438.30,214.93 440.38,214.71 442.47,214.48 444.56,214.21 446.64,213.91 448.73,213.51 450.81,213.10 452.90,212.77 454.99,212.50 457.07,212.25 459.16,212.03 461.24,211.82 463.33,211.63 465.42,211.44 467.50,211.26 469.59,211.08 471.67,210.91 473.76,210.74 475.85,210.57 477.93,210.42 480.02,210.26 482.10,210.11 484.19,209.96 486.28,209.82 488.36,209.68 490.45,209.54 492.53,209.40 494.62,209.27 496.71,209.13 498.79,209.00 500.88,208.87 502.96,208.75 505.05,208.62 507.14,208.50 509.22,208.38 511.31,208.26 513.39,208.15 515.48,208.04 517.57,207.92 519.65,207.81 521.74,207.70 523.82,207.60 525.91,207.49 528.00,207.39 530.08,207.28 532.17,207.18 534.25,207.09 536.34,207.00 538.43,206.91 540.51,206.82 542.60,206.72 544.68,206.60 546.77,206.47 548.86,206.33 550.94,206.17 553.03,206.00 555.11,205.83 557.20,205.66 559.29,205.48 561.37,205.30 563.46,205.13 565.54,204.97 567.63,204.82 569.72,204.68 571.80,204.55 573.89,204.43 575.97,204.32 578.06,204.22 580.15,204.12 582.23,204.02 584.32,203.92 586.40,203.82 588.49,203.72 590.58,203.60 592.66,203.49 594.75,203.36 596.83,203.21 598.92,203.05 601.01,202.88 603.09,202.69 605.18,202.49 607.26,202.28 609.35,202.06 611.44,201.84 613.52,201.61 615.61,201.38 617.69,201.16 619.78,200.93 621.87,200.71 623.95,200.50 626.04,200.28 628.12,200.07 630.21,199.85 632.30,199.63 634.38,199.42 636.47,199.20 638.55,198.98 640.64,198.75 642.73,198.53 644.81,198.31 646.90,198.08 648.98,197.86 651.07,197.63 653.16,197.40 655.24,197.18 657.33,196.95 659.41,196.72 661.50,196.48" fill="none" stroke="#1f9a35" stroke-width="1.8" stroke-linejoin="round" stroke-linecap="round"/>
<polygon points="413.26,215.87 416.16,218.77 413.26,221.67 410.37,218.77" fill="#1ec864" stroke="none" stroke-width="0"/>
<polygon points="419.80,213.75 422.70,216.65 419.80,219.55 416.90,216.65" fill="#1ec864" stroke="none" stroke-width="0"/>
<polygon points="426.33,213.48 429.23,216.38 426.33,219.28 423.43,216.38" fill="#1ec864" stroke="none" stroke-width="0"/>
<polygon points="432.86,212.21 435.76,215.11 432.86,218.01 429.96,215.11" fill="#1ec864" stroke="none" stroke-width="0"/>
<polygon points="439.39,212.06 442.29,214.96 439.39,217.86 436.50,214.96" fill="#1ec864" stroke="none" stroke-width="0"/>
<polygon points="445.93,210.70 448.83,213.60 445.93,216.50 443.03,213.60" fill="#1ec864" stroke="none" stroke-width="0"/>
<polygon points="452.46,209.73 455.36,212.63 452.46,215.53 449.56,212.63" fill="#1ec864" stroke="none" stroke-width="0"/>
<polygon points="458.99,209.25 461.89,212.15 458.99,215.05 456.09,212.15" fill="#1ec864" stroke="none" stroke-width="0"/>
<polygon points="465.52,208.75 468.42,211.65 465.52,214.55 462.62,211.65" fill="#1ec864" stroke="none" stroke-width="0"/>
<polygon points="472.06,207.66 474.96,210.56 472.06,213.46 469.16,210.56" fill="#1ec864" stroke="none" stroke-width="0"/>
<polygon points="478.59,207.80 481.49,210.70 478.59,213.60 475.69,210.70" fill="#1ec864" stroke="none" stroke-width="0"/>
<polygon points="485.12,207.17 488.02,210.07 485.12,212.97 482.22,210.07" fill="#1ec864" stroke="none" stroke-width="0"/>
<polygon points="491.65,206.40 494.55,209.30 491.65,212.20 488.75,209.30" fill="#1ec864" stroke="none" stroke-width="0"/>
<polygon points="498.19,205.69 501.09,208.59 498.19,211.49 495.29,208.59" fill="#1ec864" stroke="none" stroke-width="0"/>
<polygon points="504.72,205.53 507.62,208.43 504.72,211.33 501.82,208.43" fill="#1ec864" stroke="none" stroke-width="0"/>
<polygon points="511.25,205.49 514.15,208.39 511.25,211.29 508.35,208.39" fill="#1ec864" stroke="none" stroke-width="0"/>
<polygon points="517.78,204.50 520.68,207.40 517.78,210.30 514.88,207.40" fill="#1ec864" stroke="none" stroke-width="0"/>
<polygon points="524.32,204.87 527.22,207.77 524.32,210.67 521.42,207.77" fill="#1ec864" stroke="none" stroke-width="0"/>
<polygon points="530.85,204.73 533.75,207.63 530.85,210.53 527.95,207.63" fill="#1ec864" stroke="none" stroke-width="0"/>
<polygon points="537.38,204.19 540.28,207.09 537.38,209.99 534.48,207.09" fill="#1ec864" stroke="none" stroke-width="0"/>
<polygon points="543.91,203.70 546.81,206.60 543.91,209.50 541.01,206.60" fill="#1ec864" stroke="none" stroke-width="0"/>
<polygon points="550.45,203.65 553.35,206.55 550.45,209.45 547.55,206.55" fill="#1ec864" stroke="none" stroke-width="0"/>
<polygon points="556.98,203.00 559.88,205.90 556.98,208.80 554.08,205.90" fill="#1ec864" stroke="none" stroke-width="0"/>
<polygon points="563.51,202.26 566.41,205.16 563.51,208.06 560.61,205.16" fill="#1ec864" stroke="none" stroke-width="0"/>
<polygon points="570.04,201.58 572.94,204.48 570.04,207.38 567.14,204.48" fill="#1ec864" stroke="none" stroke-width="0"/>
<polygon points="576.58,201.66 579.48,204.56 576.58,207.46 573.68,204.56" fill="#1ec864" stroke="none" stroke-width="0"/>
<polygon points="583.11,201.12 586.01,204.02 583.11,206.92 580.21,204.02" fill="#1ec864" stroke="none" stroke-width="0"/>
<polygon points="589.64,200.27 592.54,203.17 589.64,206.07 586.74,203.17" fill="#1ec864" stroke="none" stroke-width="0"/>
<polygon points="596.17,199.78 599.07,202.68 596.17,205.58 593.27,202.68" fill="#1ec864" stroke="none" stroke-width="0"/>
<polygon points="602.71,199.57 605.61,202.47 602.71,205.37 599.81,202.47" fill="#1ec864" stroke="none" stroke-width="0"/>
<polygon points="609.24,198.88 612.14,201.78 609.24,204.68 606.34,201.78" fill="#1ec864" stroke="none" stroke-width="0"/>
<polygon points="615.77,198.28 618.67,201.18 615.77,204.08 612.87,201.18" fill="#1ec864" stroke="none" stroke-width="0"/>
<polygon points="622.31,198.03 625.21,200.93 622.31,203.83 619.41,200.93" fill="#1ec864" stroke="none" stroke-width="0"/>
<polygon points="628.84,197.46 631.74,200.36 628.84,203.26 625.94,200.36" fill="#1ec864" stroke="none" stroke-width="0"/>
<polygon points="635.37,196.79 638.27,199.69 635.37,202.59 632.47,199.69" fill="#1ec864" stroke="none" stroke-width="0"/>
<polygon points="641.90,195.21 644.80,198.11 641.90,201.01 639.00,198.11" fill="#1ec864" stroke="none" stroke-width="0"/>
<polygon points="648.43,194.72 651.33,197.62 648.43,200.52 645.53,197.62" fill="#1ec864" stroke="none" stroke-width="0"/>
<polygon points="654.97,193.74 657.87,196.64 654.97,199.54 652.07,196.64" fill="#1ec864" stroke="none" stroke-width="0"/>
<polygon points="661.50,193.96 664.40,196.86 661.50,199.76 658.60,196.86" fill="#1ec864" stroke="none" stroke-width="0"/>
<polyline points="400.20,220.20 402.40,219.73 404.59,219.03 406.79,218.18 408.98,217.06 411.18,215.64 413.37,214.15 415.57,212.58 417.77,210.92 419.96,209.32 422.16,207.80 424.35,206.32 426.55,204.92 428.75,203.57 430.94,202.30 433.14,201.13 435.33,200.04 437.53,199.03 439.72,198.15 441.92,197.37 444.12,196.63 446.31,195.95 448.51,195.31 450.70,194.73 452.90,194.19 455.09,193.70 457.29,193.26 459.49,192.84 461.68,192.43 463.88,192.02 466.07,191.59 468.27,191.16 470.47,190.73 472.66,190.31 474.86,189.89 477.05,189.47 479.25,189.04 481.44,188.60 483.64,188.15 485.84,187.68 488.03,187.19 490.23,186.67 492.42,186.12 494.62,185.47 496.82,184.75 499.01,184.01 501.21,183.30 503.40,182.66 505.60,182.13 507.79,181.64 509.99,181.16 512.19,180.70 514.38,180.26 516.58,179.84 518.77,179.45 520.97,179.08 523.16,178.73 525.36,178.41 527.56,178.12 529.75,177.87 531.95,177.64 534.14,177.45 536.34,177.29 538.54,177.14 540.73,176.99 542.93,176.83 545.12,176.65 547.32,176.46 549.51,176.27 551.71,176.07 553.91,175.87 556.10,175.67 558.30,175.46 560.49,175.26 562.69,175.05 564.88,174.84 567.08,174.64 569.28,174.43 571.47,174.23 573.67,174.03 575.86,173.82 578.06,173.61 580.26,173.41 582.45,173.20 584.65,172.99 586.84,172.79 589.04,172.59 591.23,172.39 593.43,172.20 595.63,172.02 597.82,171.84 600.02,171.67 602.21,171.51 604.41,171.35 606.61,171.20 608.80,171.05 611.00,170.89 613.19,170.73 615.39,170.57 617.58,170.39 619.78,170.21 621.98,170.01 624.17,169.79 626.37,169.57 628.56,169.33 630.76,169.08 632.95,168.82 635.15,168.55 637.35,168.28 639.54,167.99 641.74,167.69 643.93,167.38 646.13,167.06 648.33,166.74 650.52,166.40 652.72,166.06 654.91,165.70 657.11,165.34 659.30,164.97 661.50,164.60" fill="none" stroke="#7a2ae6" stroke-width="2.3" stroke-linejoin="round" stroke-linecap="round"/>
<polygon points="400.20,217.40 402.86,222.16 397.54,222.16" fill="#fff" stroke="#7a2ae6" stroke-width="1.25"/>
<polygon points="406.73,213.58 409.39,218.34 404.07,218.34" fill="#fff" stroke="#7a2ae6" stroke-width="1.25"/>
<polygon points="413.26,209.74 415.93,214.50 410.60,214.50" fill="#fff" stroke="#7a2ae6" stroke-width="1.25"/>
<polygon points="419.80,204.71 422.46,209.47 417.14,209.47" fill="#fff" stroke="#7a2ae6" stroke-width="1.25"/>
<polygon points="426.33,200.74 428.99,205.50 423.67,205.50" fill="#fff" stroke="#7a2ae6" stroke-width="1.25"/>
<polygon points="432.86,196.27 435.52,201.03 430.20,201.03" fill="#fff" stroke="#7a2ae6" stroke-width="1.25"/>
<polygon points="439.39,194.21 442.06,198.97 436.73,198.97" fill="#fff" stroke="#7a2ae6" stroke-width="1.25"/>
<polygon points="445.93,191.53 448.59,196.29 443.27,196.29" fill="#fff" stroke="#7a2ae6" stroke-width="1.25"/>
<polygon points="452.46,189.56 455.12,194.32 449.80,194.32" fill="#fff" stroke="#7a2ae6" stroke-width="1.25"/>
<polygon points="458.99,188.04 461.65,192.80 456.33,192.80" fill="#fff" stroke="#7a2ae6" stroke-width="1.25"/>
<polygon points="465.52,186.97 468.19,191.73 462.86,191.73" fill="#fff" stroke="#7a2ae6" stroke-width="1.25"/>
<polygon points="472.06,185.73 474.72,190.49 469.40,190.49" fill="#fff" stroke="#7a2ae6" stroke-width="1.25"/>
<polygon points="478.59,184.39 481.25,189.15 475.93,189.15" fill="#fff" stroke="#7a2ae6" stroke-width="1.25"/>
<polygon points="485.12,182.93 487.78,187.69 482.46,187.69" fill="#fff" stroke="#7a2ae6" stroke-width="1.25"/>
<polygon points="491.65,181.97 494.31,186.73 488.99,186.73" fill="#fff" stroke="#7a2ae6" stroke-width="1.25"/>
<polygon points="498.19,179.61 500.85,184.37 495.53,184.37" fill="#fff" stroke="#7a2ae6" stroke-width="1.25"/>
<polygon points="504.72,177.44 507.38,182.20 502.06,182.20" fill="#fff" stroke="#7a2ae6" stroke-width="1.25"/>
<polygon points="511.25,176.03 513.91,180.79 508.59,180.79" fill="#fff" stroke="#7a2ae6" stroke-width="1.25"/>
<polygon points="517.78,175.21 520.44,179.97 515.12,179.97" fill="#fff" stroke="#7a2ae6" stroke-width="1.25"/>
<polygon points="524.32,173.77 526.98,178.53 521.66,178.53" fill="#fff" stroke="#7a2ae6" stroke-width="1.25"/>
<polygon points="530.85,172.89 533.51,177.65 528.19,177.65" fill="#fff" stroke="#7a2ae6" stroke-width="1.25"/>
<polygon points="537.38,172.65 540.04,177.41 534.72,177.41" fill="#fff" stroke="#7a2ae6" stroke-width="1.25"/>
<polygon points="543.91,172.13 546.57,176.89 541.25,176.89" fill="#fff" stroke="#7a2ae6" stroke-width="1.25"/>
<polygon points="550.45,171.81 553.11,176.57 547.79,176.57" fill="#fff" stroke="#7a2ae6" stroke-width="1.25"/>
<polygon points="556.98,171.01 559.64,175.77 554.32,175.77" fill="#fff" stroke="#7a2ae6" stroke-width="1.25"/>
<polygon points="563.51,170.37 566.17,175.13 560.85,175.13" fill="#fff" stroke="#7a2ae6" stroke-width="1.25"/>
<polygon points="570.04,170.29 572.70,175.05 567.38,175.05" fill="#fff" stroke="#7a2ae6" stroke-width="1.25"/>
<polygon points="576.58,169.12 579.24,173.88 573.92,173.88" fill="#fff" stroke="#7a2ae6" stroke-width="1.25"/>
<polygon points="583.11,168.15 585.77,172.91 580.45,172.91" fill="#fff" stroke="#7a2ae6" stroke-width="1.25"/>
<polygon points="589.64,167.66 592.30,172.42 586.98,172.42" fill="#fff" stroke="#7a2ae6" stroke-width="1.25"/>
<polygon points="596.17,167.25 598.83,172.01 593.51,172.01" fill="#fff" stroke="#7a2ae6" stroke-width="1.25"/>
<polygon points="602.71,167.09 605.37,171.85 600.05,171.85" fill="#fff" stroke="#7a2ae6" stroke-width="1.25"/>
<polygon points="609.24,166.29 611.90,171.05 606.58,171.05" fill="#fff" stroke="#7a2ae6" stroke-width="1.25"/>
<polygon points="615.77,165.96 618.43,170.72 613.11,170.72" fill="#fff" stroke="#7a2ae6" stroke-width="1.25"/>
<polygon points="622.31,165.54 624.97,170.30 619.65,170.30" fill="#fff" stroke="#7a2ae6" stroke-width="1.25"/>
<polygon points="628.84,164.47 631.50,169.23 626.18,169.23" fill="#fff" stroke="#7a2ae6" stroke-width="1.25"/>
<polygon points="635.37,164.45 638.03,169.21 632.71,169.21" fill="#fff" stroke="#7a2ae6" stroke-width="1.25"/>
<polygon points="641.90,162.92 644.56,167.68 639.24,167.68" fill="#fff" stroke="#7a2ae6" stroke-width="1.25"/>
<polygon points="648.43,162.70 651.09,167.46 645.77,167.46" fill="#fff" stroke="#7a2ae6" stroke-width="1.25"/>
<polygon points="654.97,161.10 657.63,165.86 652.31,165.86" fill="#fff" stroke="#7a2ae6" stroke-width="1.25"/>
<polygon points="661.50,160.12 664.16,164.88 658.84,164.88" fill="#fff" stroke="#7a2ae6" stroke-width="1.25"/>
<polyline points="400.20,220.20 402.40,215.84 404.59,211.93 406.79,208.56 408.98,205.64 411.18,203.08 413.37,200.97 415.57,199.35 417.77,197.97 419.96,196.57 422.16,195.04 424.35,193.48 426.55,191.97 428.75,190.63 430.94,189.49 433.14,188.49 435.33,187.56 437.53,186.67 439.72,185.79 441.92,184.92 444.12,184.08 446.31,183.26 448.51,182.45 450.70,181.62 452.90,180.76 455.09,179.87 457.29,178.98 459.49,178.11 461.68,177.28 463.88,176.48 466.07,175.69 468.27,174.91 470.47,174.13 472.66,173.35 474.86,172.56 477.05,171.77 479.25,170.98 481.44,170.19 483.64,169.41 485.84,168.62 488.03,167.85 490.23,167.08 492.42,166.32 494.62,165.58 496.82,164.85 499.01,164.13 501.21,163.42 503.40,162.73 505.60,162.05 507.79,161.38 509.99,160.71 512.19,160.06 514.38,159.41 516.58,158.77 518.77,158.13 520.97,157.52 523.16,156.92 525.36,156.34 527.56,155.75 529.75,155.17 531.95,154.58 534.14,153.97 536.34,153.34 538.54,152.69 540.73,152.02 542.93,151.34 545.12,150.64 547.32,149.93 549.51,149.21 551.71,148.49 553.91,147.75 556.10,147.01 558.30,146.26 560.49,145.51 562.69,144.75 564.88,143.99 567.08,143.21 569.28,142.42 571.47,141.62 573.67,140.81 575.86,139.99 578.06,139.16 580.26,138.34 582.45,137.51 584.65,136.69 586.84,135.87 589.04,135.06 591.23,134.26 593.43,133.47 595.63,132.70 597.82,131.94 600.02,131.19 602.21,130.45 604.41,129.71 606.61,128.99 608.80,128.27 611.00,127.55 613.19,126.83 615.39,126.12 617.58,125.41 619.78,124.70 621.98,123.99 624.17,123.27 626.37,122.56 628.56,121.84 630.76,121.11 632.95,120.39 635.15,119.67 637.35,118.94 639.54,118.22 641.74,117.50 643.93,116.77 646.13,116.05 648.33,115.32 650.52,114.60 652.72,113.88 654.91,113.15 657.11,112.43 659.30,111.71 661.50,110.98" fill="none" stroke="#f80a0a" stroke-width="2.3" stroke-linejoin="round" stroke-linecap="round"/>
<circle cx="400.20" cy="220.20" r="2.6" fill="#f80a0a" stroke="none" stroke-width="0"/>
<circle cx="406.73" cy="208.31" r="2.6" fill="#f80a0a" stroke="none" stroke-width="0"/>
<circle cx="413.26" cy="199.24" r="2.6" fill="#f80a0a" stroke="none" stroke-width="0"/>
<circle cx="419.80" cy="195.50" r="2.6" fill="#f80a0a" stroke="none" stroke-width="0"/>
<circle cx="426.33" cy="190.56" r="2.6" fill="#f80a0a" stroke="none" stroke-width="0"/>
<circle cx="432.86" cy="186.07" r="2.6" fill="#f80a0a" stroke="none" stroke-width="0"/>
<circle cx="439.39" cy="185.50" r="2.6" fill="#f80a0a" stroke="none" stroke-width="0"/>
<circle cx="445.93" cy="183.77" r="2.6" fill="#f80a0a" stroke="none" stroke-width="0"/>
<circle cx="452.46" cy="180.38" r="2.6" fill="#f80a0a" stroke="none" stroke-width="0"/>
<circle cx="458.99" cy="176.54" r="2.6" fill="#f80a0a" stroke="none" stroke-width="0"/>
<circle cx="465.52" cy="175.64" r="2.6" fill="#f80a0a" stroke="none" stroke-width="0"/>
<circle cx="472.06" cy="173.42" r="2.6" fill="#f80a0a" stroke="none" stroke-width="0"/>
<circle cx="478.59" cy="168.73" r="2.6" fill="#f80a0a" stroke="none" stroke-width="0"/>
<circle cx="485.12" cy="167.17" r="2.6" fill="#f80a0a" stroke="none" stroke-width="0"/>
<circle cx="491.65" cy="165.58" r="2.6" fill="#f80a0a" stroke="none" stroke-width="0"/>
<circle cx="498.19" cy="161.95" r="2.6" fill="#f80a0a" stroke="none" stroke-width="0"/>
<circle cx="504.72" cy="161.68" r="2.6" fill="#f80a0a" stroke="none" stroke-width="0"/>
<circle cx="511.25" cy="158.61" r="2.6" fill="#f80a0a" stroke="none" stroke-width="0"/>
<circle cx="517.78" cy="158.18" r="2.6" fill="#f80a0a" stroke="none" stroke-width="0"/>
<circle cx="524.32" cy="155.64" r="2.6" fill="#f80a0a" stroke="none" stroke-width="0"/>
<circle cx="530.85" cy="152.70" r="2.6" fill="#f80a0a" stroke="none" stroke-width="0"/>
<circle cx="537.38" cy="150.52" r="2.6" fill="#f80a0a" stroke="none" stroke-width="0"/>
<circle cx="543.91" cy="148.62" r="2.6" fill="#f80a0a" stroke="none" stroke-width="0"/>
<circle cx="550.45" cy="148.08" r="2.6" fill="#f80a0a" stroke="none" stroke-width="0"/>
<circle cx="556.98" cy="145.25" r="2.6" fill="#f80a0a" stroke="none" stroke-width="0"/>
<circle cx="563.51" cy="143.86" r="2.6" fill="#f80a0a" stroke="none" stroke-width="0"/>
<circle cx="570.04" cy="142.11" r="2.6" fill="#f80a0a" stroke="none" stroke-width="0"/>
<circle cx="576.58" cy="138.54" r="2.6" fill="#f80a0a" stroke="none" stroke-width="0"/>
<circle cx="583.11" cy="135.00" r="2.6" fill="#f80a0a" stroke="none" stroke-width="0"/>
<circle cx="589.64" cy="132.53" r="2.6" fill="#f80a0a" stroke="none" stroke-width="0"/>
<circle cx="596.17" cy="130.64" r="2.6" fill="#f80a0a" stroke="none" stroke-width="0"/>
<circle cx="602.71" cy="127.65" r="2.6" fill="#f80a0a" stroke="none" stroke-width="0"/>
<circle cx="609.24" cy="127.64" r="2.6" fill="#f80a0a" stroke="none" stroke-width="0"/>
<circle cx="615.77" cy="125.86" r="2.6" fill="#f80a0a" stroke="none" stroke-width="0"/>
<circle cx="622.31" cy="122.84" r="2.6" fill="#f80a0a" stroke="none" stroke-width="0"/>
<circle cx="628.84" cy="121.27" r="2.6" fill="#f80a0a" stroke="none" stroke-width="0"/>
<circle cx="635.37" cy="119.31" r="2.6" fill="#f80a0a" stroke="none" stroke-width="0"/>
<circle cx="641.90" cy="116.52" r="2.6" fill="#f80a0a" stroke="none" stroke-width="0"/>
<circle cx="648.43" cy="113.69" r="2.6" fill="#f80a0a" stroke="none" stroke-width="0"/>
<circle cx="654.97" cy="111.96" r="2.6" fill="#f80a0a" stroke="none" stroke-width="0"/>
<circle cx="661.50" cy="110.38" r="2.6" fill="#f80a0a" stroke="none" stroke-width="0"/>
</g>
<text transform="translate(415.35,46.10) scale(0.998,1)" font-size="15.76" fill="#000">at 300 MPa</text>
<text transform="translate(590.84,111.80) scale(0.944,1)" font-size="15.76" fill="#d42030">1400</text>
<text transform="translate(628.83,111.80) scale(1.028,1)" font-size="16.21" fill="#d42030">C</text>
<circle cx="628.10" cy="101.30" r="1.75" fill="none" stroke="#d42030" stroke-width="0.9"/>
<text transform="translate(592.13,159.60) scale(0.996,1)" font-size="15.00" fill="#6a30c8">1300</text>
<text transform="translate(630.29,159.60) scale(1.083,1)" font-size="15.45" fill="#6a30c8">C</text>
<circle cx="629.55" cy="149.60" r="1.76" fill="none" stroke="#6a30c8" stroke-width="0.9"/>
<text transform="translate(592.10,195.70) scale(0.978,1)" font-size="15.61" fill="#3a9a3a">1200</text>
<text transform="translate(631.07,195.70) scale(1.064,1)" font-size="16.06" fill="#3a9a3a">C</text>
<circle cx="630.32" cy="185.30" r="1.79" fill="none" stroke="#3a9a3a" stroke-width="0.9"/>
<rect x="659.50" y="97.70" width="4.0" height="8.40" fill="#fff"/>
<rect x="659.50" y="146.90" width="4.0" height="9.90" fill="#fff"/>
<rect x="659.50" y="180.80" width="4.0" height="10.20" fill="#fff"/>
<line x1="652.50" y1="105.40" x2="666.62" y2="100.20" stroke="#f80a0a" stroke-width="2.0"/>
<polygon points="671.50,98.40 666.98,103.48 664.76,97.47" fill="#f80a0a"/>
<line x1="651.50" y1="154.70" x2="667.09" y2="151.84" stroke="#7a2ae6" stroke-width="2.0"/>
<polygon points="672.20,150.90 666.88,155.13 665.72,148.84" fill="#7a2ae6"/>
<line x1="654.30" y1="186.60" x2="668.00" y2="186.60" stroke="#22bb33" stroke-width="2.0"/>
<polygon points="673.20,186.60 667.20,189.80 667.20,183.40" fill="#22bb33"/>
<clipPath id="cc"><rect x="56.0" y="269.1" width="269.8" height="200.29999999999995"/></clipPath>
<g clip-path="url(#cc)">
<polyline points="60.00,376.06 64.40,376.11 68.79,376.15 73.19,376.18 77.59,376.20 81.99,376.22 86.38,376.24 90.78,376.25 95.18,376.25 99.58,376.26 103.97,376.26 108.37,376.26 112.77,376.26 117.17,376.25 121.56,376.22 125.96,376.17 130.36,376.11 134.75,376.04 139.15,375.96 143.55,375.88 147.95,375.79 152.34,375.70 156.74,375.61 161.14,375.52 165.54,375.45 169.93,375.37 174.33,375.29 178.73,375.21 183.13,375.12 187.52,375.04 191.92,374.95 196.32,374.86 200.72,374.78 205.11,374.69 209.51,374.59 213.91,374.50 218.30,374.41 222.70,374.32 227.10,374.22 231.50,374.13 235.89,374.04 240.29,373.94 244.69,373.85 249.09,373.75 253.48,373.65 257.88,373.56 262.28,373.46 266.68,373.36 271.07,373.26 275.47,373.16 279.87,373.06 284.26,372.96 288.66,372.85 293.06,372.75 297.46,372.64 301.85,372.54 306.25,372.43 310.65,372.33 315.05,372.22 319.44,372.11" fill="none" stroke="#a6a6a6" stroke-width="2.0" stroke-linejoin="round" stroke-linecap="round"/>
<polygon points="60.50,372.70 63.63,378.31 57.37,378.31" fill="#777" stroke="none" stroke-width="0"/>
<polygon points="95.00,372.70 98.14,378.31 91.86,378.31" fill="#777" stroke="none" stroke-width="0"/>
<polygon points="113.10,376.70 116.23,382.31 109.96,382.31" fill="#777" stroke="none" stroke-width="0"/>
<polygon points="124.90,374.00 128.03,379.61 121.77,379.61" fill="#777" stroke="none" stroke-width="0"/>
<polygon points="155.80,373.20 158.94,378.81 152.67,378.81" fill="#777" stroke="none" stroke-width="0"/>
<polygon points="173.70,372.20 176.83,377.81 170.56,377.81" fill="#777" stroke="none" stroke-width="0"/>
<polygon points="184.90,371.40 188.03,377.01 181.77,377.01" fill="#777" stroke="none" stroke-width="0"/>
<polygon points="208.20,371.10 211.33,376.71 205.06,376.71" fill="#777" stroke="none" stroke-width="0"/>
<polygon points="236.20,370.00 239.33,375.61 233.06,375.61" fill="#777" stroke="none" stroke-width="0"/>
<polygon points="273.30,368.90 276.44,374.51 270.17,374.51" fill="#777" stroke="none" stroke-width="0"/>
<polygon points="286.20,368.00 289.33,373.61 283.06,373.61" fill="#777" stroke="none" stroke-width="0"/>
<polygon points="311.80,367.10 314.94,372.71 308.67,372.71" fill="#777" stroke="none" stroke-width="0"/>
<rect x="56.35" y="390.65" width="5.3" height="5.3" fill="#176a17" stroke="none" stroke-width="0"/>
<rect x="93.65" y="380.05" width="5.3" height="5.3" fill="#176a17" stroke="none" stroke-width="0"/>
<rect x="91.25" y="387.65" width="5.3" height="5.3" fill="#176a17" stroke="none" stroke-width="0"/>
<rect x="91.85" y="399.55" width="5.3" height="5.3" fill="#176a17" stroke="none" stroke-width="0"/>
<rect x="106.65" y="406.65" width="5.3" height="5.3" fill="#176a17" stroke="none" stroke-width="0"/>
<rect x="109.65" y="409.65" width="5.3" height="5.3" fill="#176a17" stroke="none" stroke-width="0"/>
<rect x="97.75" y="415.55" width="5.3" height="5.3" fill="#176a17" stroke="none" stroke-width="0"/>
<rect x="101.35" y="416.75" width="5.3" height="5.3" fill="#176a17" stroke="none" stroke-width="0"/>
<rect x="107.85" y="414.35" width="5.3" height="5.3" fill="#176a17" stroke="none" stroke-width="0"/>
<rect x="113.15" y="415.55" width="5.3" height="5.3" fill="#176a17" stroke="none" stroke-width="0"/>
<rect x="106.05" y="419.05" width="5.3" height="5.3" fill="#176a17" stroke="none" stroke-width="0"/>
<rect x="101.85" y="423.85" width="5.3" height="5.3" fill="#176a17" stroke="none" stroke-width="0"/>
<rect x="109.05" y="420.25" width="5.3" height="5.3" fill="#176a17" stroke="none" stroke-width="0"/>
<rect x="114.35" y="425.05" width="5.3" height="5.3" fill="#176a17" stroke="none" stroke-width="0"/>
<rect x="117.85" y="425.55" width="5.3" height="5.3" fill="#176a17" stroke="none" stroke-width="0"/>
<rect x="121.45" y="420.25" width="5.3" height="5.3" fill="#176a17" stroke="none" stroke-width="0"/>
<rect x="122.05" y="426.15" width="5.3" height="5.3" fill="#176a17" stroke="none" stroke-width="0"/>
<rect x="119.05" y="430.95" width="5.3" height="5.3" fill="#176a17" stroke="none" stroke-width="0"/>
<rect x="125.05" y="428.55" width="5.3" height="5.3" fill="#176a17" stroke="none" stroke-width="0"/>
<rect x="128.55" y="430.95" width="5.3" height="5.3" fill="#176a17" stroke="none" stroke-width="0"/>
<rect x="130.95" y="425.05" width="5.3" height="5.3" fill="#176a17" stroke="none" stroke-width="0"/>
<rect x="132.15" y="433.35" width="5.3" height="5.3" fill="#176a17" stroke="none" stroke-width="0"/>
<rect x="134.45" y="427.35" width="5.3" height="5.3" fill="#176a17" stroke="none" stroke-width="0"/>
<rect x="138.05" y="425.05" width="5.3" height="5.3" fill="#176a17" stroke="none" stroke-width="0"/>
<rect x="141.55" y="430.95" width="5.3" height="5.3" fill="#176a17" stroke="none" stroke-width="0"/>
<rect x="145.15" y="427.95" width="5.3" height="5.3" fill="#176a17" stroke="none" stroke-width="0"/>
<rect x="127.35" y="434.45" width="5.3" height="5.3" fill="#176a17" stroke="none" stroke-width="0"/>
<rect x="123.85" y="433.35" width="5.3" height="5.3" fill="#176a17" stroke="none" stroke-width="0"/>
<rect x="115.35" y="428.35" width="5.3" height="5.3" fill="#176a17" stroke="none" stroke-width="0"/>
<rect x="111.35" y="422.35" width="5.3" height="5.3" fill="#176a17" stroke="none" stroke-width="0"/>
<rect x="125.35" y="423.35" width="5.3" height="5.3" fill="#176a17" stroke="none" stroke-width="0"/>
<rect x="135.35" y="431.35" width="5.3" height="5.3" fill="#176a17" stroke="none" stroke-width="0"/>
<rect x="147.35" y="428.35" width="5.3" height="5.3" fill="#176a17" stroke="none" stroke-width="0"/>
<rect x="119.35" y="433.35" width="5.3" height="5.3" fill="#176a17" stroke="none" stroke-width="0"/>
<rect x="126.35" y="426.35" width="5.3" height="5.3" fill="#176a17" stroke="none" stroke-width="0"/>
<rect x="133.35" y="429.35" width="5.3" height="5.3" fill="#176a17" stroke="none" stroke-width="0"/>
<rect x="138.35" y="433.35" width="5.3" height="5.3" fill="#176a17" stroke="none" stroke-width="0"/>
<rect x="143.35" y="425.35" width="5.3" height="5.3" fill="#176a17" stroke="none" stroke-width="0"/>
<rect x="116.35" y="421.35" width="5.3" height="5.3" fill="#176a17" stroke="none" stroke-width="0"/>
<rect x="103.35" y="421.35" width="5.3" height="5.3" fill="#176a17" stroke="none" stroke-width="0"/>
<rect x="129.35" y="433.35" width="5.3" height="5.3" fill="#176a17" stroke="none" stroke-width="0"/>
<rect x="113.35" y="431.35" width="5.3" height="5.3" fill="#176a17" stroke="none" stroke-width="0"/>
<rect x="122.35" y="429.35" width="5.3" height="5.3" fill="#176a17" stroke="none" stroke-width="0"/>
<polyline points="60.00,384.07 62.74,384.10 65.48,384.13 68.23,384.17 70.97,384.21 73.71,384.25 76.45,384.30 79.20,384.35 81.94,384.39 84.68,384.44 87.42,384.50 90.16,384.55 92.91,384.60 95.65,384.65 98.39,384.72 101.13,384.81 103.88,384.92 106.62,385.11 109.36,385.38 112.10,385.72 114.84,386.09 117.59,386.47 120.33,386.90 123.07,387.38 125.81,387.91 128.56,388.51 131.30,389.16 134.04,389.86 136.78,390.63 139.53,391.54 142.27,392.55 145.01,393.65 147.75,394.81 150.49,396.00 153.24,397.21 155.98,398.52 158.72,399.91 161.46,401.34 164.21,402.77 166.95,404.17 169.69,405.54 172.43,406.92 175.17,408.30 177.92,409.67 180.66,411.03 183.40,412.38 186.14,413.74 188.89,415.08 191.63,416.42 194.37,417.74 197.11,419.23 199.85,420.79 202.60,422.24 205.34,423.41 208.08,424.12 210.82,424.49 213.57,424.72 216.31,424.73 219.05,424.73 221.79,424.73" fill="none" stroke="#1010ee" stroke-width="2.3" stroke-linejoin="round" stroke-linecap="round"/>
<polygon points="59.00,387.90 61.80,390.70 59.00,393.50 56.20,390.70" fill="#fff" stroke="#1010ee" stroke-width="1.4"/>
<polygon points="67.00,387.10 69.80,389.90 67.00,392.70 64.20,389.90" fill="#fff" stroke="#1010ee" stroke-width="1.4"/>
<polygon points="89.70,386.00 92.50,388.80 89.70,391.60 86.90,388.80" fill="#fff" stroke="#1010ee" stroke-width="1.4"/>
<polygon points="104.30,383.90 107.10,386.70 104.30,389.50 101.50,386.70" fill="#fff" stroke="#1010ee" stroke-width="1.4"/>
<polygon points="111.00,383.30 113.80,386.10 111.00,388.90 108.20,386.10" fill="#fff" stroke="#1010ee" stroke-width="1.4"/>
<polygon points="123.00,383.90 125.80,386.70 123.00,389.50 120.20,386.70" fill="#fff" stroke="#1010ee" stroke-width="1.4"/>
<polygon points="132.30,386.50 135.10,389.30 132.30,392.10 129.50,389.30" fill="#fff" stroke="#1010ee" stroke-width="1.4"/>
<polygon points="141.70,391.90 144.50,394.70 141.70,397.50 138.90,394.70" fill="#fff" stroke="#1010ee" stroke-width="1.4"/>
<polygon points="153.70,394.50 156.50,397.30 153.70,400.10 150.90,397.30" fill="#fff" stroke="#1010ee" stroke-width="1.4"/>
<polygon points="161.70,397.20 164.50,400.00 161.70,402.80 158.90,400.00" fill="#fff" stroke="#1010ee" stroke-width="1.4"/>
<polygon points="169.70,399.90 172.50,402.70 169.70,405.50 166.90,402.70" fill="#fff" stroke="#1010ee" stroke-width="1.4"/>
<polygon points="172.30,403.90 175.10,406.70 172.30,409.50 169.50,406.70" fill="#fff" stroke="#1010ee" stroke-width="1.4"/>
<polygon points="180.30,405.20 183.10,408.00 180.30,410.80 177.50,408.00" fill="#fff" stroke="#1010ee" stroke-width="1.4"/>
<polygon points="188.30,410.50 191.10,413.30 188.30,416.10 185.50,413.30" fill="#fff" stroke="#1010ee" stroke-width="1.4"/>
<polygon points="192.30,413.20 195.10,416.00 192.30,418.80 189.50,416.00" fill="#fff" stroke="#1010ee" stroke-width="1.4"/>
<polygon points="196.30,417.20 199.10,420.00 196.30,422.80 193.50,420.00" fill="#fff" stroke="#1010ee" stroke-width="1.4"/>
<polygon points="200.30,419.90 203.10,422.70 200.30,425.50 197.50,422.70" fill="#fff" stroke="#1010ee" stroke-width="1.4"/>
<polygon points="205.70,422.50 208.50,425.30 205.70,428.10 202.90,425.30" fill="#fff" stroke="#1010ee" stroke-width="1.4"/>
<polygon points="209.70,422.50 212.50,425.30 209.70,428.10 206.90,425.30" fill="#fff" stroke="#1010ee" stroke-width="1.4"/>
<polygon points="147.00,391.20 149.80,394.00 147.00,396.80 144.20,394.00" fill="#fff" stroke="#1010ee" stroke-width="1.4"/>
<polygon points="158.00,396.70 160.80,399.50 158.00,402.30 155.20,399.50" fill="#fff" stroke="#1010ee" stroke-width="1.4"/>
<polygon points="165.00,398.20 167.80,401.00 165.00,403.80 162.20,401.00" fill="#fff" stroke="#1010ee" stroke-width="1.4"/>
<polygon points="176.00,404.20 178.80,407.00 176.00,409.80 173.20,407.00" fill="#fff" stroke="#1010ee" stroke-width="1.4"/>
<polygon points="184.00,407.20 186.80,410.00 184.00,412.80 181.20,410.00" fill="#fff" stroke="#1010ee" stroke-width="1.4"/>
<polygon points="190.00,411.70 192.80,414.50 190.00,417.30 187.20,414.50" fill="#fff" stroke="#1010ee" stroke-width="1.4"/>
<polygon points="194.00,415.20 196.80,418.00 194.00,420.80 191.20,418.00" fill="#fff" stroke="#1010ee" stroke-width="1.4"/>
<polygon points="198.00,418.70 200.80,421.50 198.00,424.30 195.20,421.50" fill="#fff" stroke="#1010ee" stroke-width="1.4"/>
<polygon points="203.00,420.20 205.80,423.00 203.00,425.80 200.20,423.00" fill="#fff" stroke="#1010ee" stroke-width="1.4"/>
<polygon points="186.00,406.70 188.80,409.50 186.00,412.30 183.20,409.50" fill="#fff" stroke="#1010ee" stroke-width="1.4"/>
<polygon points="178.00,401.20 180.80,404.00 178.00,406.80 175.20,404.00" fill="#fff" stroke="#1010ee" stroke-width="1.4"/>
<circle cx="59.00" cy="374.70" r="2.7" fill="#f80a0a" stroke="none" stroke-width="0"/>
<circle cx="100.30" cy="390.70" r="2.7" fill="#f80a0a" stroke="none" stroke-width="0"/>
<circle cx="123.00" cy="386.70" r="2.7" fill="#f80a0a" stroke="none" stroke-width="0"/>
<circle cx="123.00" cy="389.30" r="2.7" fill="#f80a0a" stroke="none" stroke-width="0"/>
<circle cx="135.00" cy="389.90" r="2.7" fill="#f80a0a" stroke="none" stroke-width="0"/>
<circle cx="145.70" cy="390.70" r="2.7" fill="#f80a0a" stroke="none" stroke-width="0"/>
<circle cx="156.30" cy="391.50" r="2.7" fill="#f80a0a" stroke="none" stroke-width="0"/>
<circle cx="169.70" cy="393.30" r="2.7" fill="#f80a0a" stroke="none" stroke-width="0"/>
<circle cx="180.30" cy="394.70" r="2.7" fill="#f80a0a" stroke="none" stroke-width="0"/>
<circle cx="191.00" cy="396.00" r="2.7" fill="#f80a0a" stroke="none" stroke-width="0"/>
<circle cx="200.30" cy="396.80" r="2.7" fill="#f80a0a" stroke="none" stroke-width="0"/>
<circle cx="215.00" cy="397.30" r="2.7" fill="#f80a0a" stroke="none" stroke-width="0"/>
<circle cx="228.30" cy="397.90" r="2.7" fill="#f80a0a" stroke="none" stroke-width="0"/>
<circle cx="200.00" cy="396.20" r="2.7" fill="#f80a0a" stroke="none" stroke-width="0"/>
<circle cx="214.40" cy="397.10" r="2.7" fill="#f80a0a" stroke="none" stroke-width="0"/>
<circle cx="225.60" cy="397.80" r="2.7" fill="#f80a0a" stroke="none" stroke-width="0"/>
<circle cx="229.60" cy="398.20" r="2.7" fill="#f80a0a" stroke="none" stroke-width="0"/>
<circle cx="236.70" cy="398.90" r="2.7" fill="#f80a0a" stroke="none" stroke-width="0"/>
<circle cx="243.30" cy="399.30" r="2.7" fill="#f80a0a" stroke="none" stroke-width="0"/>
<circle cx="248.90" cy="399.30" r="2.7" fill="#f80a0a" stroke="none" stroke-width="0"/>
<circle cx="254.40" cy="400.00" r="2.7" fill="#f80a0a" stroke="none" stroke-width="0"/>
<circle cx="261.10" cy="399.30" r="2.7" fill="#f80a0a" stroke="none" stroke-width="0"/>
<circle cx="273.30" cy="400.00" r="2.7" fill="#f80a0a" stroke="none" stroke-width="0"/>
<circle cx="281.10" cy="400.00" r="2.7" fill="#f80a0a" stroke="none" stroke-width="0"/>
<circle cx="284.40" cy="400.00" r="2.7" fill="#f80a0a" stroke="none" stroke-width="0"/>
<circle cx="298.90" cy="399.30" r="2.7" fill="#f80a0a" stroke="none" stroke-width="0"/>
<circle cx="305.60" cy="398.90" r="2.7" fill="#f80a0a" stroke="none" stroke-width="0"/>
<circle cx="310.00" cy="397.10" r="2.7" fill="#f80a0a" stroke="none" stroke-width="0"/>
<circle cx="311.80" cy="396.70" r="2.7" fill="#f80a0a" stroke="none" stroke-width="0"/>
<circle cx="321.80" cy="396.20" r="2.7" fill="#f80a0a" stroke="none" stroke-width="0"/>
<circle cx="75.71" cy="380.31" r="2.7" fill="#f80a0a" stroke="none" stroke-width="0"/>
<circle cx="91.42" cy="384.78" r="2.7" fill="#f80a0a" stroke="none" stroke-width="0"/>
<circle cx="101.89" cy="385.08" r="2.7" fill="#f80a0a" stroke="none" stroke-width="0"/>
<circle cx="117.60" cy="387.34" r="2.7" fill="#f80a0a" stroke="none" stroke-width="0"/>
<circle cx="125.45" cy="387.49" r="2.7" fill="#f80a0a" stroke="none" stroke-width="0"/>
<polyline points="60.00,385.27 61.72,385.38 63.44,385.53 65.17,385.72 66.89,385.94 68.61,386.19 70.33,386.45 72.05,386.74 73.77,387.08 75.50,387.46 77.22,387.90 78.94,388.41 80.66,388.98 82.38,389.66 84.10,390.57 85.83,391.69 87.55,393.02 89.27,394.53 90.99,396.57 92.71,399.02 94.43,401.58 96.16,404.03 97.88,406.56 99.60,409.08 101.32,411.54 103.04,413.98 104.76,416.32 106.49,418.46 108.21,420.47 109.93,422.35 111.65,424.06 113.37,425.71 115.09,427.19 116.82,428.28 118.54,429.11 120.26,429.83 121.98,430.45 123.70,430.95 125.42,431.34 127.15,431.65 128.87,431.92 130.59,432.16 132.31,432.35 134.03,432.49 135.75,432.59 137.48,432.68 139.20,432.76 140.92,432.84 142.64,432.92 144.36,432.99 146.08,433.05 147.81,433.11 149.53,433.16 151.25,433.21 152.97,433.25 154.69,433.28 156.41,433.31 158.14,433.33 159.86,433.34 161.58,433.35" fill="none" stroke="#0b470b" stroke-width="2.3" stroke-linejoin="round" stroke-linecap="round"/>
<polyline points="60.00,379.26 64.44,379.80 68.87,380.34 73.31,380.91 77.75,381.48 82.19,382.07 86.62,382.67 91.06,383.28 95.50,383.91 99.94,384.55 104.37,385.24 108.81,385.96 113.25,386.69 117.68,387.43 122.12,388.16 126.56,388.86 131.00,389.53 135.43,390.16 139.87,390.74 144.31,391.30 148.75,391.84 153.18,392.37 157.62,392.88 162.06,393.38 166.49,393.89 170.93,394.41 175.37,394.93 179.81,395.43 184.24,395.89 188.68,396.31 193.12,396.66 197.56,396.98 201.99,397.27 206.43,397.54 210.87,397.78 215.31,398.01 219.74,398.22 224.18,398.41 228.62,398.59 233.05,398.76 237.49,398.92 241.93,399.06 246.37,399.18 250.80,399.31 255.24,399.42 259.68,399.53 264.12,399.62 268.55,399.68 272.99,399.74 277.43,399.78 281.86,399.83 286.30,399.86 290.74,399.89 295.18,399.90 299.61,399.87 304.05,399.79 308.49,399.67 312.93,399.50 317.36,399.31 321.80,399.09" fill="none" stroke="#f80a0a" stroke-width="2.3" stroke-linejoin="round" stroke-linecap="round"/>
</g>
<text transform="translate(74.65,293.90) scale(1.076,1)" font-size="14.70" fill="#000">at 1400</text>
<text transform="translate(124.95,293.90) scale(1.076,1)" font-size="15.00" fill="#000">C</text>
<circle cx="124.1" cy="282.2" r="1.7" fill="none" stroke="#000" stroke-width="0.9"/>
<line x1="69.00" y1="368.80" x2="157.10" y2="368.80" stroke="#8a8a8a" stroke-width="1.2"/>
<polygon points="64.30,368.80 69.80,366.20 69.80,371.40" fill="#8a8a8a"/>
<polygon points="161.80,368.80 156.30,366.20 156.30,371.40" fill="#8a8a8a"/>
<text style="stroke:none" transform="translate(95.02,365.50) scale(1.094,1)" font-size="9.6" fill="#8a8a8a">1.97 <tspan font-size="12.00">×</tspan>10<tspan font-size="6.53" dy="-4.32">-7</tspan></text>
<text transform="translate(249.28,361.80) scale(1.045,1)" font-size="15.45" fill="#7a7a7a">400 MPa</text>
<rect x="319.80" y="351.70" width="4.0" height="13.00" fill="#fff"/>
<rect x="319.80" y="381.20" width="4.0" height="12.80" fill="#fff"/>
<line x1="314.90" y1="358.40" x2="328.50" y2="358.40" stroke="#5a5a5a" stroke-width="2.0"/>
<polygon points="334.20,358.40 327.70,361.80 327.70,355.00" fill="#5a5a5a"/>
<text transform="translate(248.17,392.90) scale(1.073,1)" font-size="15.15" fill="#d42030">300 MPa</text>
<line x1="314.10" y1="387.60" x2="327.30" y2="387.60" stroke="#f80a0a" stroke-width="2.0"/>
<polygon points="333.00,387.60 326.50,391.00 326.50,384.20" fill="#f80a0a"/>
<line x1="228.00" y1="407.30" x2="294.20" y2="407.30" stroke="#d83030" stroke-width="1.2"/>
<polygon points="223.30,407.30 228.80,404.70 228.80,409.90" fill="#d83030"/>
<polygon points="298.90,407.30 293.40,404.70 293.40,409.90" fill="#d83030"/>
<text style="stroke:none" transform="translate(242.82,417.70) scale(1.091,1)" font-size="9.6" fill="#cc3333">5.60 <tspan font-size="12.00">×</tspan>10<tspan font-size="6.53" dy="-4.32">-8</tspan></text>
<line x1="225.60" y1="428.20" x2="239.40" y2="428.20" stroke="#1010ee" stroke-width="2.1"/>
<polygon points="245.10,428.20 238.60,431.60 238.60,424.80" fill="#1010ee"/>
<line x1="196.40" y1="433.80" x2="214.70" y2="433.80" stroke="#1010ee" stroke-width="1.2"/>
<polygon points="192.20,433.80 197.20,431.20 197.20,436.40" fill="#1010ee"/>
<polygon points="218.90,433.80 213.90,431.20 213.90,436.40" fill="#1010ee"/>
<text style="stroke:none" transform="translate(193.92,447.30) scale(1.074,1)" font-size="9.6" fill="#2a2acc">1.32 <tspan font-size="12.00">×</tspan>10<tspan font-size="6.53" dy="-4.32">-8</tspan></text>
<text transform="translate(250.37,444.40) scale(1.066,1)" font-size="15.15" fill="#2020c0">200 MPa</text>
<line x1="161.10" y1="441.20" x2="174.10" y2="441.20" stroke="#1a5a1a" stroke-width="2.3"/>
<polygon points="179.80,441.20 173.30,444.60 173.30,437.80" fill="#1a5a1a"/>
<line x1="124.80" y1="444.10" x2="138.60" y2="444.10" stroke="#1a5a1a" stroke-width="1.2"/>
<polygon points="120.60,444.10 125.60,441.50 125.60,446.70" fill="#1a5a1a"/>
<polygon points="142.80,444.10 137.80,441.50 137.80,446.70" fill="#1a5a1a"/>
<text style="stroke:none" transform="translate(95.12,458.20) scale(1.041,1)" font-size="9.6" fill="#1f4f1f">7.27 <tspan font-size="12.00">×</tspan>10<tspan font-size="6.53" dy="-4.32">-9</tspan></text>
<text transform="translate(146.23,461.40) scale(1.046,1)" font-size="15.45" fill="#1f4f1f">150 MPa</text>
<clipPath id="cd"><rect x="395.7" y="268.8" width="269.2" height="200.5"/></clipPath>
<g clip-path="url(#cd)">
<polygon points="399.60,383.80 403.20,387.40 399.60,391.00 396.00,387.40" fill="#1ec864" stroke="none" stroke-width="0"/>
<polygon points="406.80,383.30 410.40,386.90 406.80,390.50 403.20,386.90" fill="#1ec864" stroke="none" stroke-width="0"/>
<polygon points="405.80,403.60 409.40,407.20 405.80,410.80 402.20,407.20" fill="#1ec864" stroke="none" stroke-width="0"/>
<polygon points="415.10,407.20 418.70,410.80 415.10,414.40 411.50,410.80" fill="#1ec864" stroke="none" stroke-width="0"/>
<polygon points="418.20,407.20 421.80,410.80 418.20,414.40 414.60,410.80" fill="#1ec864" stroke="none" stroke-width="0"/>
<polygon points="428.10,412.40 431.70,416.00 428.10,419.60 424.50,416.00" fill="#1ec864" stroke="none" stroke-width="0"/>
<polygon points="426.00,415.00 429.60,418.60 426.00,422.20 422.40,418.60" fill="#1ec864" stroke="none" stroke-width="0"/>
<polygon points="432.20,416.00 435.80,419.60 432.20,423.20 428.60,419.60" fill="#1ec864" stroke="none" stroke-width="0"/>
<polygon points="423.90,419.10 427.50,422.70 423.90,426.30 420.30,422.70" fill="#1ec864" stroke="none" stroke-width="0"/>
<polygon points="427.00,420.20 430.60,423.80 427.00,427.40 423.40,423.80" fill="#1ec864" stroke="none" stroke-width="0"/>
<polygon points="429.10,422.20 432.70,425.80 429.10,429.40 425.50,425.80" fill="#1ec864" stroke="none" stroke-width="0"/>
<polygon points="425.00,423.30 428.60,426.90 425.00,430.50 421.40,426.90" fill="#1ec864" stroke="none" stroke-width="0"/>
<polygon points="434.30,423.30 437.90,426.90 434.30,430.50 430.70,426.90" fill="#1ec864" stroke="none" stroke-width="0"/>
<polygon points="442.60,424.30 446.20,427.90 442.60,431.50 439.00,427.90" fill="#1ec864" stroke="none" stroke-width="0"/>
<polygon points="448.80,424.80 452.40,428.40 448.80,432.00 445.20,428.40" fill="#1ec864" stroke="none" stroke-width="0"/>
<polygon points="440.50,428.50 444.10,432.10 440.50,435.70 436.90,432.10" fill="#1ec864" stroke="none" stroke-width="0"/>
<polygon points="444.70,429.50 448.30,433.10 444.70,436.70 441.10,433.10" fill="#1ec864" stroke="none" stroke-width="0"/>
<polygon points="451.90,431.60 455.50,435.20 451.90,438.80 448.30,435.20" fill="#1ec864" stroke="none" stroke-width="0"/>
<polygon points="441.60,435.70 445.20,439.30 441.60,442.90 438.00,439.30" fill="#1ec864" stroke="none" stroke-width="0"/>
<polygon points="447.80,437.80 451.40,441.40 447.80,445.00 444.20,441.40" fill="#1ec864" stroke="none" stroke-width="0"/>
<polygon points="449.90,433.60 453.50,437.20 449.90,440.80 446.30,437.20" fill="#1ec864" stroke="none" stroke-width="0"/>
<polygon points="445.70,432.60 449.30,436.20 445.70,439.80 442.10,436.20" fill="#1ec864" stroke="none" stroke-width="0"/>
<polygon points="429.10,426.40 432.70,430.00 429.10,433.60 425.50,430.00" fill="#1ec864" stroke="none" stroke-width="0"/>
<polygon points="422.90,421.20 426.50,424.80 422.90,428.40 419.30,424.80" fill="#1ec864" stroke="none" stroke-width="0"/>
<polygon points="430.20,418.10 433.80,421.70 430.20,425.30 426.60,421.70" fill="#1ec864" stroke="none" stroke-width="0"/>
<polygon points="401.00,380.40 404.60,384.00 401.00,387.60 397.40,384.00" fill="#1ec864" stroke="none" stroke-width="0"/>
<polygon points="420.00,410.40 423.60,414.00 420.00,417.60 416.40,414.00" fill="#1ec864" stroke="none" stroke-width="0"/>
<polygon points="437.00,420.40 440.60,424.00 437.00,427.60 433.40,424.00" fill="#1ec864" stroke="none" stroke-width="0"/>
<polygon points="446.00,426.40 449.60,430.00 446.00,433.60 442.40,430.00" fill="#1ec864" stroke="none" stroke-width="0"/>
<polyline points="399.70,380.28 402.67,380.48 405.63,380.70 408.60,380.95 411.56,381.21 414.53,381.49 417.50,381.78 420.46,382.09 423.43,382.42 426.40,382.75 429.36,383.08 432.33,383.40 435.29,383.72 438.26,384.07 441.23,384.45 444.19,384.89 447.16,385.38 450.12,385.94 453.09,386.60 456.06,387.42 459.02,388.97 461.99,390.77 464.96,392.14 467.92,393.24 470.89,394.37 473.85,395.60 476.82,396.88 479.79,398.19 482.75,399.52 485.72,400.86 488.69,402.21 491.65,403.54 494.62,404.84 497.58,406.11 500.55,407.38 503.52,408.68 506.48,410.02 509.45,411.44 512.41,412.98 515.38,414.90 518.35,416.99 521.31,418.72 524.28,419.77 527.25,420.66 530.21,421.41 533.18,421.99 536.14,422.33 539.11,422.46 542.08,422.56 545.04,422.64 548.01,422.70 550.97,422.75 553.94,422.78 556.91,422.78 559.87,422.78 562.84,422.78 565.81,422.78 568.77,422.78 571.74,422.78 574.70,422.78" fill="none" stroke="#7a2ae6" stroke-width="2.3" stroke-linejoin="round" stroke-linecap="round"/>
<polygon points="399.70,374.27 403.12,380.39 396.28,380.39" fill="#fff" stroke="#7a2ae6" stroke-width="1.3"/>
<polygon points="402.31,376.05 405.73,382.17 398.89,382.17" fill="#fff" stroke="#7a2ae6" stroke-width="1.3"/>
<polygon points="431.04,374.84 434.46,380.96 427.62,380.96" fill="#fff" stroke="#7a2ae6" stroke-width="1.3"/>
<polygon points="441.49,378.89 444.91,385.01 438.07,385.01" fill="#fff" stroke="#7a2ae6" stroke-width="1.3"/>
<polygon points="457.16,382.71 460.58,388.83 453.74,388.83" fill="#fff" stroke="#7a2ae6" stroke-width="1.3"/>
<polygon points="465.00,383.75 468.42,389.87 461.58,389.87" fill="#fff" stroke="#7a2ae6" stroke-width="1.3"/>
<polygon points="467.61,388.33 471.03,394.45 464.19,394.45" fill="#fff" stroke="#7a2ae6" stroke-width="1.3"/>
<polygon points="472.84,389.17 476.26,395.29 469.42,395.29" fill="#fff" stroke="#7a2ae6" stroke-width="1.3"/>
<polygon points="478.06,393.02 481.48,399.14 474.64,399.14" fill="#fff" stroke="#7a2ae6" stroke-width="1.3"/>
<polygon points="483.28,393.35 486.70,399.47 479.86,399.47" fill="#fff" stroke="#7a2ae6" stroke-width="1.3"/>
<polygon points="485.90,395.74 489.32,401.86 482.48,401.86" fill="#fff" stroke="#7a2ae6" stroke-width="1.3"/>
<polygon points="488.51,397.72 491.93,403.84 485.09,403.84" fill="#fff" stroke="#7a2ae6" stroke-width="1.3"/>
<polygon points="493.73,398.85 497.15,404.97 490.31,404.97" fill="#fff" stroke="#7a2ae6" stroke-width="1.3"/>
<polygon points="498.96,401.90 502.38,408.02 495.54,408.02" fill="#fff" stroke="#7a2ae6" stroke-width="1.3"/>
<polygon points="504.18,402.97 507.60,409.09 500.76,409.09" fill="#fff" stroke="#7a2ae6" stroke-width="1.3"/>
<polygon points="509.40,407.02 512.82,413.14 505.98,413.14" fill="#fff" stroke="#7a2ae6" stroke-width="1.3"/>
<polygon points="512.02,405.15 515.44,411.27 508.60,411.27" fill="#fff" stroke="#7a2ae6" stroke-width="1.3"/>
<polygon points="514.63,408.77 518.05,414.89 511.21,414.89" fill="#fff" stroke="#7a2ae6" stroke-width="1.3"/>
<polygon points="517.24,407.01 520.66,413.13 513.82,413.13" fill="#fff" stroke="#7a2ae6" stroke-width="1.3"/>
<polygon points="519.85,411.14 523.27,417.26 516.43,417.26" fill="#fff" stroke="#7a2ae6" stroke-width="1.3"/>
<polygon points="522.46,410.76 525.88,416.88 519.04,416.88" fill="#fff" stroke="#7a2ae6" stroke-width="1.3"/>
<polygon points="525.08,412.41 528.50,418.53 521.66,418.53" fill="#fff" stroke="#7a2ae6" stroke-width="1.3"/>
<polygon points="527.69,415.58 531.11,421.70 524.27,421.70" fill="#fff" stroke="#7a2ae6" stroke-width="1.3"/>
<polygon points="530.30,415.43 533.72,421.55 526.88,421.55" fill="#fff" stroke="#7a2ae6" stroke-width="1.3"/>
<polygon points="532.91,414.34 536.33,420.46 529.49,420.46" fill="#fff" stroke="#7a2ae6" stroke-width="1.3"/>
<polygon points="535.52,417.88 538.94,424.00 532.10,424.00" fill="#fff" stroke="#7a2ae6" stroke-width="1.3"/>
<polygon points="538.14,417.22 541.56,423.34 534.72,423.34" fill="#fff" stroke="#7a2ae6" stroke-width="1.3"/>
<polygon points="540.75,414.91 544.17,421.03 537.33,421.03" fill="#fff" stroke="#7a2ae6" stroke-width="1.3"/>
<polygon points="543.36,413.78 546.78,419.90 539.94,419.90" fill="#fff" stroke="#7a2ae6" stroke-width="1.3"/>
<polygon points="545.97,417.06 549.39,423.18 542.55,423.18" fill="#fff" stroke="#7a2ae6" stroke-width="1.3"/>
<polygon points="548.58,414.30 552.00,420.42 545.16,420.42" fill="#fff" stroke="#7a2ae6" stroke-width="1.3"/>
<polygon points="551.20,415.14 554.62,421.26 547.78,421.26" fill="#fff" stroke="#7a2ae6" stroke-width="1.3"/>
<polygon points="556.42,414.37 559.84,420.49 553.00,420.49" fill="#fff" stroke="#7a2ae6" stroke-width="1.3"/>
<polygon points="559.03,416.78 562.45,422.90 555.61,422.90" fill="#fff" stroke="#7a2ae6" stroke-width="1.3"/>
<polygon points="561.64,415.17 565.06,421.29 558.22,421.29" fill="#fff" stroke="#7a2ae6" stroke-width="1.3"/>
<polygon points="540.75,418.92 544.17,425.04 537.33,425.04" fill="#fff" stroke="#7a2ae6" stroke-width="1.3"/>
<polygon points="535.52,415.87 538.94,421.99 532.10,421.99" fill="#fff" stroke="#7a2ae6" stroke-width="1.3"/>
<circle cx="399.10" cy="374.30" r="2.7" fill="#f80a0a" stroke="none" stroke-width="0"/>
<circle cx="439.60" cy="390.30" r="2.7" fill="#f80a0a" stroke="none" stroke-width="0"/>
<circle cx="463.50" cy="385.70" r="2.7" fill="#f80a0a" stroke="none" stroke-width="0"/>
<circle cx="462.40" cy="388.90" r="2.7" fill="#f80a0a" stroke="none" stroke-width="0"/>
<circle cx="475.90" cy="389.50" r="2.7" fill="#f80a0a" stroke="none" stroke-width="0"/>
<circle cx="485.20" cy="390.30" r="2.7" fill="#f80a0a" stroke="none" stroke-width="0"/>
<circle cx="490.00" cy="391.60" r="2.7" fill="#f80a0a" stroke="none" stroke-width="0"/>
<circle cx="495.60" cy="393.00" r="2.7" fill="#f80a0a" stroke="none" stroke-width="0"/>
<circle cx="508.10" cy="392.40" r="2.7" fill="#f80a0a" stroke="none" stroke-width="0"/>
<circle cx="512.20" cy="393.60" r="2.7" fill="#f80a0a" stroke="none" stroke-width="0"/>
<circle cx="519.10" cy="394.50" r="2.7" fill="#f80a0a" stroke="none" stroke-width="0"/>
<circle cx="524.70" cy="395.10" r="2.7" fill="#f80a0a" stroke="none" stroke-width="0"/>
<circle cx="531.90" cy="396.10" r="2.7" fill="#f80a0a" stroke="none" stroke-width="0"/>
<circle cx="540.60" cy="396.00" r="2.7" fill="#f80a0a" stroke="none" stroke-width="0"/>
<circle cx="552.80" cy="396.70" r="2.7" fill="#f80a0a" stroke="none" stroke-width="0"/>
<circle cx="565.00" cy="397.30" r="2.7" fill="#f80a0a" stroke="none" stroke-width="0"/>
<circle cx="569.40" cy="397.30" r="2.7" fill="#f80a0a" stroke="none" stroke-width="0"/>
<circle cx="577.20" cy="398.20" r="2.7" fill="#f80a0a" stroke="none" stroke-width="0"/>
<circle cx="583.90" cy="398.90" r="2.7" fill="#f80a0a" stroke="none" stroke-width="0"/>
<circle cx="589.40" cy="398.90" r="2.7" fill="#f80a0a" stroke="none" stroke-width="0"/>
<circle cx="595.00" cy="399.30" r="2.7" fill="#f80a0a" stroke="none" stroke-width="0"/>
<circle cx="600.60" cy="399.30" r="2.7" fill="#f80a0a" stroke="none" stroke-width="0"/>
<circle cx="612.80" cy="399.30" r="2.7" fill="#f80a0a" stroke="none" stroke-width="0"/>
<circle cx="620.60" cy="399.30" r="2.7" fill="#f80a0a" stroke="none" stroke-width="0"/>
<circle cx="625.00" cy="398.90" r="2.7" fill="#f80a0a" stroke="none" stroke-width="0"/>
<circle cx="637.20" cy="398.40" r="2.7" fill="#f80a0a" stroke="none" stroke-width="0"/>
<circle cx="645.00" cy="397.80" r="2.7" fill="#f80a0a" stroke="none" stroke-width="0"/>
<circle cx="649.40" cy="396.70" r="2.7" fill="#f80a0a" stroke="none" stroke-width="0"/>
<circle cx="650.60" cy="397.10" r="2.7" fill="#f80a0a" stroke="none" stroke-width="0"/>
<circle cx="660.60" cy="396.70" r="2.7" fill="#f80a0a" stroke="none" stroke-width="0"/>
<polyline points="399.70,383.49 400.82,385.33 401.93,387.20 403.05,389.09 404.16,391.02 405.28,392.97 406.39,394.94 407.51,396.99 408.63,399.15 409.74,401.35 410.86,403.53 411.97,405.61 413.09,407.54 414.20,409.27 415.32,410.92 416.43,412.51 417.55,414.04 418.67,415.50 419.78,416.91 420.90,418.25 422.01,419.54 423.13,420.78 424.24,421.95 425.36,423.07 426.48,424.14 427.59,425.15 428.71,426.12 429.82,427.04 430.94,427.92 432.05,428.77 433.17,429.60 434.28,430.42 435.40,431.20 436.52,431.93 437.63,432.61 438.75,433.23 439.86,433.78 440.98,434.30 442.09,434.80 443.21,435.28 444.33,435.73 445.44,436.14 446.56,436.51 447.67,436.84 448.79,437.11 449.90,437.33 451.02,437.54 452.13,437.75 453.25,437.95 454.37,438.15 455.48,438.33 456.60,438.50 457.71,438.66 458.83,438.80 459.94,438.92 461.06,439.03 462.18,439.11 463.29,439.18 464.41,439.21 465.52,439.22" fill="none" stroke="#1f9a35" stroke-width="2.3" stroke-linejoin="round" stroke-linecap="round"/>
<polyline points="399.70,379.08 404.13,379.61 408.55,380.16 412.98,380.72 417.41,381.29 421.84,381.88 426.26,382.48 430.69,383.10 435.12,383.72 439.54,384.37 443.97,385.06 448.40,385.78 452.83,386.51 457.25,387.25 461.68,387.98 466.11,388.68 470.53,389.35 474.96,389.98 479.39,390.56 483.82,391.12 488.24,391.66 492.67,392.19 497.10,392.70 501.52,393.21 505.95,393.71 510.38,394.23 514.81,394.75 519.23,395.25 523.66,395.72 528.09,396.14 532.51,396.49 536.94,396.81 541.37,397.10 545.79,397.37 550.22,397.61 554.65,397.84 559.08,398.05 563.50,398.24 567.93,398.42 572.36,398.59 576.78,398.75 581.21,398.89 585.64,399.01 590.07,399.14 594.49,399.25 598.92,399.36 603.35,399.45 607.77,399.52 612.20,399.57 616.63,399.61 621.06,399.66 625.48,399.69 629.91,399.72 634.34,399.73 638.76,399.70 643.19,399.62 647.62,399.50 652.05,399.33 656.47,399.14 660.90,398.92" fill="none" stroke="#f80a0a" stroke-width="2.3" stroke-linejoin="round" stroke-linecap="round"/>
</g>
<text transform="translate(416.15,295.20) scale(1.072,1)" font-size="14.55" fill="#000">at 300 MPa</text>
<text transform="translate(587.03,387.10) scale(0.948,1)" font-size="15.76" fill="#d42030">1400</text>
<text transform="translate(625.19,387.10) scale(1.032,1)" font-size="16.21" fill="#d42030">C</text>
<circle cx="624.45" cy="376.60" r="1.76" fill="none" stroke="#d42030" stroke-width="0.9"/>
<rect x="658.90" y="380.70" width="4.0" height="11.10" fill="#fff"/>
<line x1="652.60" y1="386.30" x2="666.20" y2="386.30" stroke="#f80a0a" stroke-width="2.0"/>
<polygon points="671.90,386.30 665.40,389.70 665.40,382.90" fill="#f80a0a"/>
<line x1="568.60" y1="407.80" x2="634.30" y2="407.80" stroke="#d83030" stroke-width="1.2"/>
<polygon points="563.90,407.80 569.40,405.20 569.40,410.40" fill="#d83030"/>
<polygon points="639.00,407.80 633.50,405.20 633.50,410.40" fill="#d83030"/>
<text style="stroke:none" transform="translate(583.42,418.40) scale(1.079,1)" font-size="9.6" fill="#cc3333">5.60 <tspan font-size="12.00">×</tspan>10<tspan font-size="6.53" dy="-4.32">-8</tspan></text>
<line x1="575.00" y1="429.10" x2="588.60" y2="429.10" stroke="#7a2ae6" stroke-width="2.1"/>
<polygon points="594.30,429.10 587.80,432.50 587.80,425.70" fill="#7a2ae6"/>
<line x1="533.60" y1="431.80" x2="555.20" y2="431.80" stroke="#7a2ae6" stroke-width="1.2"/>
<polygon points="529.40,431.80 534.40,429.20 534.40,434.40" fill="#7a2ae6"/>
<polygon points="559.40,431.80 554.40,429.20 554.40,434.40" fill="#7a2ae6"/>
<text style="stroke:none" transform="translate(525.52,443.50) scale(1.063,1)" font-size="9.6" fill="#8a3ae0">1.50 <tspan font-size="12.00">×</tspan>10<tspan font-size="6.53" dy="-4.32">-8</tspan></text>
<text transform="translate(573.71,449.30) scale(0.962,1)" font-size="15.76" fill="#6a30c8">1300</text>
<text transform="translate(612.44,449.30) scale(1.048,1)" font-size="16.21" fill="#6a30c8">C</text>
<circle cx="611.69" cy="438.80" r="1.78" fill="none" stroke="#6a30c8" stroke-width="0.9"/>
<line x1="462.40" y1="431.00" x2="475.40" y2="431.00" stroke="#22bb33" stroke-width="2.3"/>
<polygon points="481.10,431.00 474.60,434.40 474.60,427.60" fill="#22bb33"/>
<text transform="translate(468.41,453.40) scale(0.960,1)" font-size="15.76" fill="#3a9a3a">1200</text>
<text transform="translate(507.06,453.40) scale(1.046,1)" font-size="16.21" fill="#3a9a3a">C</text>
<circle cx="506.31" cy="442.90" r="1.78" fill="none" stroke="#3a9a3a" stroke-width="0.9"/>
<line x1="440.30" y1="448.20" x2="451.00" y2="448.20" stroke="#22bb33" stroke-width="1.2"/>
<polygon points="436.10,448.20 441.10,445.60 441.10,450.80" fill="#22bb33"/>
<polygon points="455.20,448.20 450.20,445.60 450.20,450.80" fill="#22bb33"/>
<text style="stroke:none" transform="translate(420.42,462.30) scale(1.071,1)" font-size="9.6" fill="#44aa44">5.57 <tspan font-size="12.00">×</tspan>10<tspan font-size="6.53" dy="-4.32">-9</tspan></text>
<line x1="107.20" y1="686.20" x2="303.70" y2="563.70" stroke="#000" stroke-width="3.4"/>
<circle cx="125.10" cy="663.40" r="5.3" fill="#000" stroke="none" stroke-width="0"/>
<circle cx="125.10" cy="681.00" r="5.3" fill="#000" stroke="none" stroke-width="0"/>
<circle cx="172.40" cy="646.50" r="5.3" fill="#000" stroke="none" stroke-width="0"/>
<circle cx="238.50" cy="604.80" r="5.3" fill="#000" stroke="none" stroke-width="0"/>
<circle cx="238.50" cy="608.70" r="5.3" fill="#000" stroke="none" stroke-width="0"/>
<circle cx="285.80" cy="567.90" r="5.3" fill="#000" stroke="none" stroke-width="0"/>
<polygon points="189.6,671.6 283.2,671.6 283.2,613.6" fill="none" stroke="#000" stroke-width="1.1"/>
<text transform="translate(237.34,692.50) scale(0.956,1)" font-size="18.79" fill="#000">n = 3.54</text>
<text transform="translate(75.45,549.10) scale(1.187,1)" font-size="13.33" fill="#000">at 1400</text>
<text transform="translate(125.76,549.10) scale(1.158,1)" font-size="13.79" fill="#000">C</text>
<circle cx="124.9" cy="537.8" r="1.7" fill="none" stroke="#000" stroke-width="0.9"/>
<line x1="463.70" y1="539.10" x2="642.30" y2="663.60" stroke="#000" stroke-width="3.4"/>
<rect x="477.10" y="541.50" width="9.6" height="9.6" fill="#fff" stroke="#000" stroke-width="1.5"/>
<rect x="477.10" y="547.40" width="9.6" height="9.6" fill="#fff" stroke="#000" stroke-width="1.5"/>
<rect x="543.60" y="599.50" width="9.6" height="9.6" fill="#fff" stroke="#000" stroke-width="1.5"/>
<rect x="618.60" y="641.90" width="9.6" height="9.6" fill="#fff" stroke="#000" stroke-width="1.5"/>
<polygon points="481,606.6 481,671.8 575.5,671.8" fill="none" stroke="#000" stroke-width="1.1"/>
<text transform="translate(449.33,692.20) scale(0.983,1)" font-size="16.97" fill="#000">Q = 234 kJ/mol</text>
<text transform="translate(561.95,548.60) scale(1.104,1)" font-size="14.24" fill="#000">at 300 MPa</text>
</svg></body></html>
